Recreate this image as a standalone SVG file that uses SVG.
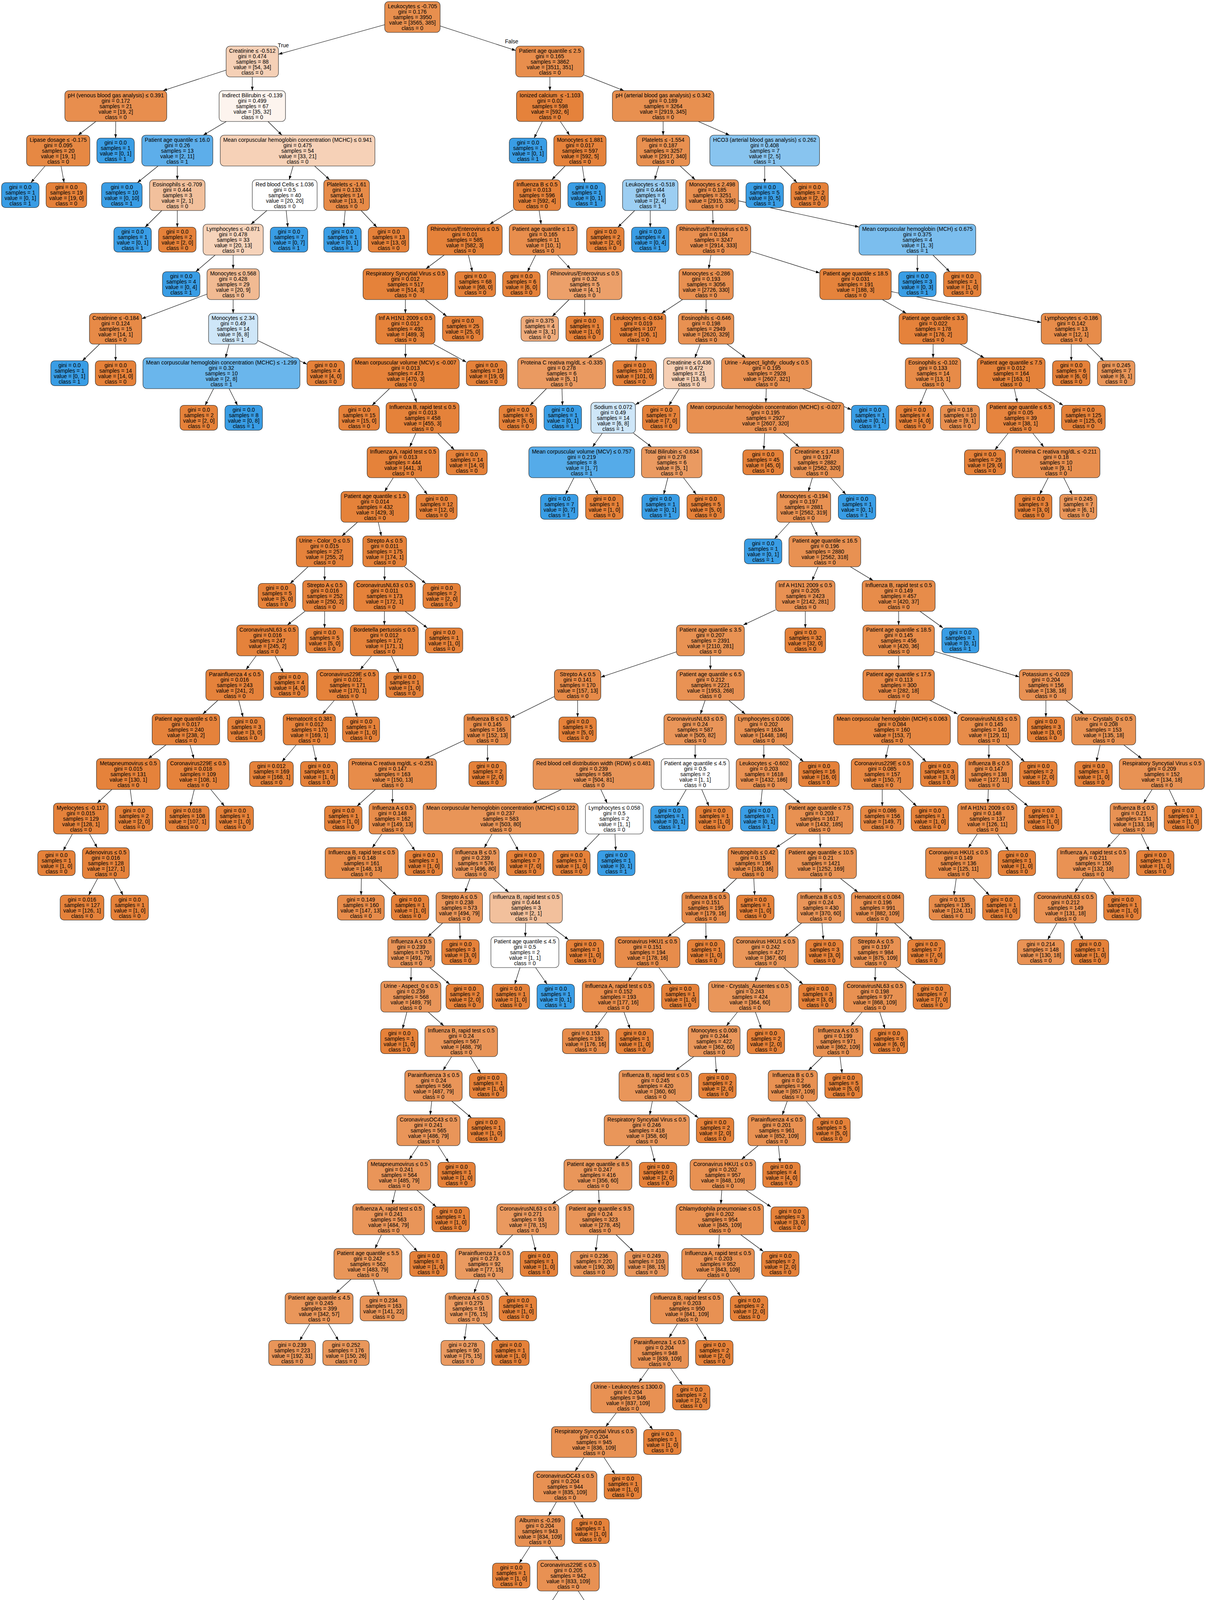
<svg xmlns="http://www.w3.org/2000/svg" width="3088" height="4746" viewBox="0 0 3088 4746">
<defs>
<style>
.n rect{stroke:#222;stroke-width:1.1;rx:10px;ry:10px}
.o rect{fill:#e58139}
.b rect{fill:#399de5}
text{font-family:"Liberation Sans",Arial,Helvetica,sans-serif;font-size:14px;text-anchor:middle;fill:#000}
#edges line{stroke:#000;stroke-width:1.1;marker-end:url(#arr)}
</style>
<marker id="arr" markerUnits="userSpaceOnUse" markerWidth="11" markerHeight="8" refX="10" refY="4" orient="auto" viewBox="0 0 11 8"><path d="M0,0.5 L10,4 L0,7.5 z" fill="#000"/></marker>
</defs>
<rect x="0" y="0" width="3088" height="4746" fill="#fff"/>
<g id="edges">
<line x1="985" y1="63.2" x2="713" y2="138.9"/>
<line x1="1127" y1="66.5" x2="1320.5" y2="129.2"/>
<line x1="579" y1="179.4" x2="417.6" y2="232"/>
<line x1="646" y1="197" x2="646" y2="232"/>
<line x1="1408" y1="197" x2="1408" y2="232"/>
<line x1="1495.5" y1="191.9" x2="1597.5" y2="232"/>
<line x1="245.4" y1="311" x2="200.1" y2="346"/>
<line x1="296.3" y1="311" x2="296.1" y2="353.5"/>
<line x1="579.5" y1="311" x2="520.5" y2="346"/>
<line x1="686.2" y1="311" x2="721.8" y2="346"/>
<line x1="1388.6" y1="311" x2="1367.7" y2="353.5"/>
<line x1="1434.7" y1="311" x2="1458.3" y2="346"/>
<line x1="1698" y1="311" x2="1698" y2="346"/>
<line x1="1788.1" y1="311" x2="1867.9" y2="346"/>
<line x1="115.4" y1="425" x2="79.2" y2="467.5"/>
<line x1="156.3" y1="425" x2="164.1" y2="467.5"/>
<line x1="404.8" y1="425" x2="351.9" y2="467.5"/>
<line x1="454" y1="425" x2="454" y2="460"/>
<line x1="750.6" y1="425" x2="740.4" y2="460"/>
<line x1="805.5" y1="425" x2="844" y2="460"/>
<line x1="1446.9" y1="425" x2="1413.1" y2="460"/>
<line x1="1490.9" y1="425" x2="1497.2" y2="467.5"/>
<line x1="1686.6" y1="425" x2="1676.4" y2="460"/>
<line x1="1741.5" y1="425" x2="1780" y2="460"/>
<line x1="1958" y1="425" x2="1958" y2="467.5"/>
<line x1="1997.8" y1="425" x2="2040.7" y2="467.5"/>
<line x1="414.3" y1="539" x2="371.6" y2="581.5"/>
<line x1="454" y1="539" x2="454" y2="581.5"/>
<line x1="683.3" y1="539" x2="642.7" y2="574"/>
<line x1="732.8" y1="539" x2="736.9" y2="581.5"/>
<line x1="883.9" y1="539" x2="879.9" y2="581.5"/>
<line x1="924.7" y1="539" x2="964.8" y2="581.5"/>
<line x1="1314.5" y1="536.8" x2="1254.1" y2="574"/>
<line x1="1380.5" y1="539" x2="1385.5" y2="574"/>
<line x1="1625.2" y1="539" x2="1582.3" y2="581.5"/>
<line x1="1665" y1="539" x2="1665" y2="581.5"/>
<line x1="1824.7" y1="539" x2="1825.8" y2="574"/>
<line x1="1891" y1="514.1" x2="2199.5" y2="581.1"/>
<line x1="550.9" y1="653" x2="501.3" y2="695.5"/>
<line x1="597" y1="653" x2="597" y2="688"/>
<line x1="1137.3" y1="653" x2="1090.7" y2="688"/>
<line x1="1199.4" y1="653" x2="1209.4" y2="695.5"/>
<line x1="1371.6" y1="653" x2="1350.7" y2="695.5"/>
<line x1="1427.7" y1="653" x2="1460.3" y2="688"/>
<line x1="1820.4" y1="653" x2="1814.6" y2="688"/>
<line x1="1922.5" y1="643.5" x2="2099" y2="698.8"/>
<line x1="2349" y1="653" x2="2349" y2="695.5"/>
<line x1="2388.8" y1="653" x2="2431.7" y2="695.5"/>
<line x1="530" y1="752.9" x2="363" y2="816.1"/>
<line x1="597" y1="767" x2="597" y2="802"/>
<line x1="1038" y1="767" x2="1038" y2="802"/>
<line x1="1088.9" y1="767" x2="1143.7" y2="809.5"/>
<line x1="1457.2" y1="767" x2="1414.3" y2="809.5"/>
<line x1="1497" y1="767" x2="1497" y2="809.5"/>
<line x1="1747.7" y1="767" x2="1694.3" y2="802"/>
<line x1="1808" y1="767" x2="1808" y2="802"/>
<line x1="2259.5" y1="767" x2="2320.5" y2="802"/>
<line x1="2282" y1="746.4" x2="2666" y2="825.6"/>
<line x1="255.1" y1="881" x2="211.1" y2="923.5"/>
<line x1="296" y1="881" x2="296" y2="923.5"/>
<line x1="586.6" y1="881" x2="577.4" y2="916"/>
<line x1="660" y1="871.8" x2="786" y2="932.4"/>
<line x1="1038.2" y1="881" x2="1038.3" y2="916"/>
<line x1="1110.1" y1="881" x2="1194" y2="927"/>
<line x1="1566.1" y1="881" x2="1505.9" y2="916"/>
<line x1="1630.9" y1="881" x2="1627.5" y2="923.5"/>
<line x1="1792.8" y1="881" x2="1779.2" y2="916"/>
<line x1="1861.7" y1="881" x2="1909.3" y2="916"/>
<line x1="2389.3" y1="881" x2="2389.2" y2="916"/>
<line x1="2458.6" y1="881" x2="2519.9" y2="916"/>
<line x1="2743" y1="881" x2="2743" y2="923.5"/>
<line x1="2782.8" y1="881" x2="2825.7" y2="923.5"/>
<line x1="546.9" y1="995" x2="525.3" y2="1037.5"/>
<line x1="586.7" y1="995" x2="608" y2="1037.5"/>
<line x1="997.3" y1="995" x2="952.9" y2="1037.5"/>
<line x1="1053.6" y1="995" x2="1066.9" y2="1030"/>
<line x1="1399.2" y1="995" x2="1357.4" y2="1037.5"/>
<line x1="1439" y1="995" x2="1440.2" y2="1037.5"/>
<line x1="1699" y1="993.7" x2="1627" y2="1036"/>
<line x1="1739.4" y1="995" x2="1712.9" y2="1037.5"/>
<line x1="1962" y1="995" x2="1961" y2="1030"/>
<line x1="2054.8" y1="995" x2="2180" y2="1048.9"/>
<line x1="2372.7" y1="995" x2="2355.2" y2="1037.5"/>
<line x1="2412.9" y1="995" x2="2438.6" y2="1037.5"/>
<line x1="2597.3" y1="995" x2="2604.7" y2="1030"/>
<line x1="2653.1" y1="995" x2="2722.1" y2="1037.5"/>
<line x1="1064.7" y1="1109" x2="1049.3" y2="1144"/>
<line x1="1121.2" y1="1109" x2="1163.3" y2="1151.5"/>
<line x1="1542.1" y1="1109" x2="1517.4" y2="1144"/>
<line x1="1622" y1="1109" x2="1668" y2="1144"/>
<line x1="1957.9" y1="1109" x2="1955.7" y2="1151.5"/>
<line x1="2005.7" y1="1109" x2="2046.3" y2="1144"/>
<line x1="2581.5" y1="1109" x2="2547.5" y2="1151.5"/>
<line x1="2644.5" y1="1109" x2="2672.5" y2="1144"/>
<line x1="1007" y1="1223" x2="985" y2="1258"/>
<line x1="1061.8" y1="1223" x2="1093.9" y2="1265.5"/>
<line x1="1469.6" y1="1223" x2="1448.1" y2="1265.5"/>
<line x1="1509.6" y1="1223" x2="1531.2" y2="1265.5"/>
<line x1="1710.1" y1="1223" x2="1699.5" y2="1265.5"/>
<line x1="1750.1" y1="1223" x2="1782.6" y2="1265.5"/>
<line x1="2080.2" y1="1223" x2="2069.8" y2="1258"/>
<line x1="2127.5" y1="1223" x2="2165.7" y2="1265.5"/>
<line x1="2683.9" y1="1223" x2="2662.3" y2="1265.5"/>
<line x1="2723.8" y1="1223" x2="2745" y2="1265.5"/>
<line x1="915.3" y1="1337" x2="875.7" y2="1372"/>
<line x1="968.7" y1="1337" x2="976.3" y2="1372"/>
<line x1="2022" y1="1337" x2="1983.2" y2="1379.5"/>
<line x1="2076.7" y1="1337" x2="2093.3" y2="1372"/>
<line x1="788.7" y1="1451" x2="743.2" y2="1493.5"/>
<line x1="831.2" y1="1451" x2="831.3" y2="1486"/>
<line x1="984.8" y1="1451" x2="984.7" y2="1486"/>
<line x1="1035.6" y1="1451" x2="1090" y2="1493.5"/>
<line x1="2094.7" y1="1451" x2="2079.3" y2="1486"/>
<line x1="2177.5" y1="1451" x2="2235.5" y2="1486"/>
<line x1="780.7" y1="1565" x2="735.8" y2="1600"/>
<line x1="831.3" y1="1565" x2="831.1" y2="1607.5"/>
<line x1="984.3" y1="1565" x2="984.2" y2="1600"/>
<line x1="1037.3" y1="1565" x2="1094.2" y2="1607.5"/>
<line x1="1986" y1="1561.2" x2="1903.2" y2="1600"/>
<line x1="2062" y1="1565" x2="2062" y2="1607.5"/>
<line x1="2301" y1="1565" x2="2301" y2="1600"/>
<line x1="2355.7" y1="1565" x2="2414.6" y2="1607.5"/>
<line x1="655.9" y1="1679" x2="630.1" y2="1714"/>
<line x1="704.4" y1="1679" x2="725.3" y2="1721.5"/>
<line x1="951.4" y1="1679" x2="922.6" y2="1714"/>
<line x1="1002" y1="1679" x2="1021.4" y2="1721.5"/>
<line x1="1732" y1="1668.7" x2="1538.5" y2="1733.6"/>
<line x1="1819" y1="1679" x2="1819" y2="1714"/>
<line x1="2301" y1="1679" x2="2301" y2="1714"/>
<line x1="2392.5" y1="1667.2" x2="2610" y2="1732.9"/>
<line x1="557.7" y1="1793" x2="519.3" y2="1828"/>
<line x1="611.2" y1="1793" x2="622.2" y2="1835.5"/>
<line x1="856" y1="1793" x2="826" y2="1828"/>
<line x1="902" y1="1793" x2="914.8" y2="1835.5"/>
<line x1="1419.5" y1="1782.9" x2="1308" y2="1837.9"/>
<line x1="1479" y1="1793" x2="1479" y2="1835.5"/>
<line x1="1805.5" y1="1793" x2="1793.5" y2="1828"/>
<line x1="1866.3" y1="1793" x2="1908.2" y2="1828"/>
<line x1="2295.1" y1="1793" x2="2289.9" y2="1828"/>
<line x1="2381" y1="1793" x2="2452" y2="1828"/>
<line x1="2678" y1="1793" x2="2678" y2="1835.5"/>
<line x1="2729.3" y1="1793" x2="2774.7" y2="1828"/>
<line x1="424.9" y1="1907" x2="379.6" y2="1942"/>
<line x1="486.7" y1="1907" x2="496.3" y2="1942"/>
<line x1="758.4" y1="1907" x2="722.2" y2="1949.5"/>
<line x1="800.7" y1="1907" x2="810" y2="1949.5"/>
<line x1="1188" y1="1895.6" x2="1089.2" y2="1942"/>
<line x1="1248.2" y1="1907" x2="1248.4" y2="1949.5"/>
<line x1="1700" y1="1902.6" x2="1610.1" y2="1942"/>
<line x1="1780" y1="1907" x2="1780" y2="1942"/>
<line x1="1955.7" y1="1907" x2="1955.8" y2="1942"/>
<line x1="2004.5" y1="1907" x2="2057.3" y2="1949.5"/>
<line x1="2275.3" y1="1907" x2="2267.7" y2="1942"/>
<line x1="2325.9" y1="1907" x2="2371" y2="1949.5"/>
<line x1="2532" y1="1907" x2="2532" y2="1942"/>
<line x1="2575.9" y1="1907" x2="2623.1" y2="1949.5"/>
<line x1="2817" y1="1907" x2="2807.3" y2="1949.5"/>
<line x1="2877.6" y1="1907" x2="2923.4" y2="1942"/>
<line x1="286.4" y1="2021" x2="249.1" y2="2056"/>
<line x1="333.5" y1="2021" x2="338.9" y2="2063.5"/>
<line x1="497.5" y1="2021" x2="487.2" y2="2063.5"/>
<line x1="539.6" y1="2021" x2="574.6" y2="2063.5"/>
<line x1="961.3" y1="2021" x2="914.4" y2="2063.5"/>
<line x1="1005" y1="2021" x2="1005" y2="2056"/>
<line x1="1437.5" y1="2021" x2="1364.5" y2="2056"/>
<line x1="1538.4" y1="2021" x2="1554.6" y2="2056"/>
<line x1="1757.1" y1="2021" x2="1732.5" y2="2063.5"/>
<line x1="1796.8" y1="2021" x2="1815" y2="2063.5"/>
<line x1="1951.8" y1="2021" x2="1947.4" y2="2063.5"/>
<line x1="2005.2" y1="2021" x2="2048.8" y2="2056"/>
<line x1="2259" y1="2021" x2="2259" y2="2063.5"/>
<line x1="2301.3" y1="2021" x2="2346.8" y2="2063.5"/>
<line x1="2530.6" y1="2021" x2="2529.4" y2="2056"/>
<line x1="2580.2" y1="2021" x2="2632" y2="2063.5"/>
<line x1="2950" y1="2021" x2="2928" y2="2056"/>
<line x1="2993.7" y1="2021" x2="3013.8" y2="2063.5"/>
<line x1="185.3" y1="2135" x2="162" y2="2177.5"/>
<line x1="229.2" y1="2135" x2="248.8" y2="2170"/>
<line x1="977.6" y1="2135" x2="953.4" y2="2170"/>
<line x1="1032.7" y1="2135" x2="1062.5" y2="2177.5"/>
<line x1="1259.8" y1="2135" x2="1240.2" y2="2170"/>
<line x1="1303.8" y1="2135" x2="1327.3" y2="2177.5"/>
<line x1="1534.9" y1="2135" x2="1493.9" y2="2177.5"/>
<line x1="1574.7" y1="2135" x2="1576.6" y2="2177.5"/>
<line x1="2039.1" y1="2135" x2="1986.9" y2="2170"/>
<line x1="2099.4" y1="2135" x2="2100.6" y2="2170"/>
<line x1="2502.4" y1="2135" x2="2479.6" y2="2170"/>
<line x1="2554.2" y1="2135" x2="2582.5" y2="2177.5"/>
<line x1="2867" y1="2135" x2="2835" y2="2170"/>
<line x1="2922.1" y1="2135" x2="2942.6" y2="2177.5"/>
<line x1="249.9" y1="2249" x2="227.1" y2="2291.5"/>
<line x1="292.1" y1="2249" x2="314.9" y2="2291.5"/>
<line x1="925.3" y1="2249" x2="924.6" y2="2291.5"/>
<line x1="969" y1="2249" x2="1015.2" y2="2291.5"/>
<line x1="1203.4" y1="2249" x2="1190.6" y2="2284"/>
<line x1="1262.7" y1="2249" x2="1302.3" y2="2284"/>
<line x1="1886.1" y1="2249" x2="1848.9" y2="2284"/>
<line x1="1930.1" y1="2249" x2="1932.3" y2="2291.5"/>
<line x1="2101.8" y1="2249" x2="2101.7" y2="2284"/>
<line x1="2152.2" y1="2249" x2="2196.8" y2="2284"/>
<line x1="2448.5" y1="2249" x2="2442.5" y2="2291.5"/>
<line x1="2492.1" y1="2249" x2="2533.1" y2="2291.5"/>
<line x1="2774.4" y1="2249" x2="2752.6" y2="2284"/>
<line x1="2825" y1="2249" x2="2852.9" y2="2291.5"/>
<line x1="1133.4" y1="2363" x2="1095.6" y2="2398"/>
<line x1="1177" y1="2363" x2="1178.2" y2="2405.5"/>
<line x1="1346" y1="2363" x2="1345" y2="2398"/>
<line x1="1399.3" y1="2363" x2="1455.6" y2="2405.5"/>
<line x1="1755.4" y1="2363" x2="1709.6" y2="2398"/>
<line x1="1807.3" y1="2363" x2="1807.7" y2="2405.5"/>
<line x1="2052.6" y1="2363" x2="2009.4" y2="2398"/>
<line x1="2104.8" y1="2363" x2="2108.3" y2="2405.5"/>
<line x1="2245.3" y1="2363" x2="2243.7" y2="2398"/>
<line x1="2290.3" y1="2363" x2="2336.9" y2="2405.5"/>
<line x1="2706.2" y1="2363" x2="2682.7" y2="2405.5"/>
<line x1="2749.8" y1="2363" x2="2773.3" y2="2405.5"/>
<line x1="1052.7" y1="2477" x2="1052.3" y2="2512"/>
<line x1="1100.5" y1="2477" x2="1151.5" y2="2519.5"/>
<line x1="1331.5" y1="2477" x2="1318.1" y2="2519.5"/>
<line x1="1371.4" y1="2477" x2="1400.8" y2="2519.5"/>
<line x1="1632" y1="2477" x2="1609" y2="2512"/>
<line x1="1687.1" y1="2477" x2="1718.4" y2="2519.5"/>
<line x1="1946.5" y1="2477" x2="1934" y2="2512"/>
<line x1="2006.4" y1="2477" x2="2055.8" y2="2519.5"/>
<line x1="2241.3" y1="2477" x2="2240.7" y2="2512"/>
<line x1="2291.9" y1="2477" x2="2345.6" y2="2519.5"/>
<line x1="1041.8" y1="2591" x2="1030.8" y2="2633.5"/>
<line x1="1096.7" y1="2591" x2="1136.3" y2="2626"/>
<line x1="1554.1" y1="2591" x2="1523" y2="2633.5"/>
<line x1="1597.6" y1="2591" x2="1613.2" y2="2633.5"/>
<line x1="1888.3" y1="2591" x2="1860.2" y2="2626"/>
<line x1="1934.2" y1="2591" x2="1949.5" y2="2633.5"/>
<line x1="2207.4" y1="2591" x2="2178.6" y2="2626"/>
<line x1="2252.5" y1="2591" x2="2265.9" y2="2633.5"/>
<line x1="1156.4" y1="2705" x2="1134.6" y2="2740"/>
<line x1="1204.9" y1="2705" x2="1230.6" y2="2747.5"/>
<line x1="1776.4" y1="2705" x2="1730.1" y2="2740"/>
<line x1="1831.4" y1="2705" x2="1834.6" y2="2747.5"/>
<line x1="2105.8" y1="2705" x2="2070.2" y2="2740"/>
<line x1="2150.9" y1="2705" x2="2156.1" y2="2747.5"/>
<line x1="1105.5" y1="2819" x2="1101.5" y2="2854"/>
<line x1="1156.8" y1="2819" x2="1207.1" y2="2861.5"/>
<line x1="1670.4" y1="2819" x2="1663.6" y2="2854"/>
<line x1="1731" y1="2819" x2="1788.1" y2="2861.5"/>
<line x1="2015.8" y1="2819" x2="2003.2" y2="2854"/>
<line x1="2064.3" y1="2819" x2="2101.2" y2="2861.5"/>
<line x1="1071" y1="2933" x2="1048" y2="2968"/>
<line x1="1121.9" y1="2933" x2="1148.8" y2="2975.5"/>
<line x1="1612.7" y1="2933" x2="1574.3" y2="2968"/>
<line x1="1666" y1="2933" x2="1676.9" y2="2975.5"/>
<line x1="1941.2" y1="2933" x2="1898.8" y2="2968"/>
<line x1="1993.2" y1="2933" x2="1997.6" y2="2975.5"/>
<line x1="1012.6" y1="3047" x2="1004.4" y2="3082"/>
<line x1="1067.7" y1="3047" x2="1117" y2="3089.5"/>
<line x1="1468.8" y1="3047" x2="1413.7" y2="3082"/>
<line x1="1532.7" y1="3047" x2="1534.3" y2="3082"/>
<line x1="1848.2" y1="3047" x2="1845.8" y2="3082"/>
<line x1="1910.2" y1="3047" x2="1974" y2="3089.5"/>
<line x1="976.6" y1="3161" x2="960.4" y2="3196"/>
<line x1="1030.3" y1="3161" x2="1068.4" y2="3203.5"/>
<line x1="1312.9" y1="3161" x2="1278.6" y2="3196"/>
<line x1="1361.4" y1="3161" x2="1372" y2="3203.5"/>
<line x1="1530.8" y1="3161" x2="1525.2" y2="3203.5"/>
<line x1="1577.4" y1="3161" x2="1621.9" y2="3203.5"/>
<line x1="1841.5" y1="3161" x2="1840.1" y2="3196"/>
<line x1="1896.7" y1="3161" x2="1954.5" y2="3203.5"/>
<line x1="898.7" y1="3275" x2="860.3" y2="3310"/>
<line x1="955.9" y1="3275" x2="970.8" y2="3317.5"/>
<line x1="1226.1" y1="3275" x2="1213.9" y2="3310"/>
<line x1="1269.8" y1="3275" x2="1301.9" y2="3317.5"/>
<line x1="1811" y1="3275" x2="1786.6" y2="3310"/>
<line x1="1866.1" y1="3275" x2="1895.7" y2="3317.5"/>
<line x1="793.1" y1="3389" x2="767.4" y2="3431.5"/>
<line x1="840.9" y1="3389" x2="866.6" y2="3431.5"/>
<line x1="1194.8" y1="3389" x2="1189.2" y2="3431.5"/>
<line x1="1237.1" y1="3389" x2="1277" y2="3431.5"/>
<line x1="1734.7" y1="3389" x2="1713.3" y2="3424"/>
<line x1="1783.3" y1="3389" x2="1809.4" y2="3431.5"/>
<line x1="1660.9" y1="3503" x2="1636.1" y2="3538"/>
<line x1="1717.1" y1="3503" x2="1747.3" y2="3545.5"/>
<line x1="1577.9" y1="3617" x2="1551.1" y2="3652"/>
<line x1="1638.5" y1="3617" x2="1671.3" y2="3659.5"/>
<line x1="1495.4" y1="3731" x2="1472.6" y2="3766"/>
<line x1="1546.6" y1="3731" x2="1574.2" y2="3773.5"/>
<line x1="1424.7" y1="3845" x2="1404.8" y2="3880"/>
<line x1="1469.5" y1="3845" x2="1493.8" y2="3887.5"/>
<line x1="1357" y1="3959" x2="1329.6" y2="4001.5"/>
<line x1="1407.6" y1="3959" x2="1429.9" y2="3994"/>
<line x1="1429.7" y1="4073" x2="1407.3" y2="4108"/>
<line x1="1480.6" y1="4073" x2="1508.2" y2="4115.5"/>
<line x1="1357.7" y1="4187" x2="1336.3" y2="4222"/>
<line x1="1406.3" y1="4187" x2="1432.4" y2="4229.5"/>
<line x1="1284.6" y1="4301" x2="1260.4" y2="4336"/>
<line x1="1339.4" y1="4301" x2="1368.8" y2="4343.5"/>
<line x1="1198.4" y1="4415" x2="1167.6" y2="4450"/>
<line x1="1267.6" y1="4415" x2="1298.4" y2="4450"/>
<line x1="1080.2" y1="4529" x2="1033.3" y2="4564"/>
<line x1="1138.8" y1="4529" x2="1144.9" y2="4571.5"/>
<line x1="1328" y1="4529" x2="1322.6" y2="4571.5"/>
<line x1="1386.4" y1="4529" x2="1433.6" y2="4564"/>
<line x1="957.1" y1="4643" x2="932" y2="4685.5"/>
<line x1="1003.5" y1="4643" x2="1028.3" y2="4685.5"/>
<line x1="1463.1" y1="4643" x2="1437.4" y2="4685.5"/>
<line x1="1510.9" y1="4643" x2="1536.6" y2="4685.5"/>
<text x="725.5" y="121">True</text>
<text x="1310" y="111">False</text>
</g>
<g id="nodes">
<g id="n0" class="n" transform="translate(1056,43.5)"><rect x="-71" y="-39.5" width="142" height="79" fill="#e88f4e"/><text y="-23"><tspan x="0">Leukocytes ≤ -0.705</tspan><tspan x="0" dy="14.15">gini = 0.176</tspan><tspan x="0" dy="14.15">samples = 3950</tspan><tspan x="0" dy="14.15">value = [3565, 385]</tspan><tspan x="0" dy="14.15">class = 0</tspan></text></g>
<g id="n1" class="n" transform="translate(646,157.5)"><rect x="-67" y="-39.5" width="134" height="79" fill="#f5d0b6"/><text y="-23"><tspan x="0">Creatinine ≤ -0.512</tspan><tspan x="0" dy="14.15">gini = 0.474</tspan><tspan x="0" dy="14.15">samples = 88</tspan><tspan x="0" dy="14.15">value = [54, 34]</tspan><tspan x="0" dy="14.15">class = 0</tspan></text></g>
<g id="n2" class="n" transform="translate(1408,157.5)"><rect x="-87.5" y="-39.5" width="175" height="79" fill="#e88e4d"/><text y="-23"><tspan x="0">Patient age quantile ≤ 2.5</tspan><tspan x="0" dy="14.15">gini = 0.165</tspan><tspan x="0" dy="14.15">samples = 3862</tspan><tspan x="0" dy="14.15">value = [3511, 351]</tspan><tspan x="0" dy="14.15">class = 0</tspan></text></g>
<g id="n3" class="n" transform="translate(296.5,271.5)"><rect x="-130.5" y="-39.5" width="261" height="79" fill="#e88e4e"/><text y="-23"><tspan x="0">pH (venous blood gas analysis) ≤ 0.391</tspan><tspan x="0" dy="14.15">gini = 0.172</tspan><tspan x="0" dy="14.15">samples = 21</tspan><tspan x="0" dy="14.15">value = [19, 2]</tspan><tspan x="0" dy="14.15">class = 0</tspan></text></g>
<g id="n4" class="n" transform="translate(646,271.5)"><rect x="-85" y="-39.5" width="170" height="79" fill="#fdf4ee"/><text y="-23"><tspan x="0">Indirect Bilirubin ≤ -0.139</tspan><tspan x="0" dy="14.15">gini = 0.499</tspan><tspan x="0" dy="14.15">samples = 67</tspan><tspan x="0" dy="14.15">value = [35, 32]</tspan><tspan x="0" dy="14.15">class = 0</tspan></text></g>
<g id="n5" class="n" transform="translate(1408,271.5)"><rect x="-85.5" y="-39.5" width="171" height="79" fill="#e5823b"/><text y="-23" style="white-space:pre"><tspan x="0">Ionized calcium  ≤ -1.103</tspan><tspan x="0" dy="14.15">gini = 0.02</tspan><tspan x="0" dy="14.15">samples = 598</tspan><tspan x="0" dy="14.15">value = [592, 6]</tspan><tspan x="0" dy="14.15">class = 0</tspan></text></g>
<g id="n6" class="n" transform="translate(1698,271.5)"><rect x="-130" y="-39.5" width="260" height="79" fill="#e89050"/><text y="-23"><tspan x="0">pH (arterial blood gas analysis) ≤ 0.342</tspan><tspan x="0" dy="14.15">gini = 0.189</tspan><tspan x="0" dy="14.15">samples = 3264</tspan><tspan x="0" dy="14.15">value = [2919, 345]</tspan><tspan x="0" dy="14.15">class = 0</tspan></text></g>
<g id="n7" class="n" transform="translate(149,385.5)"><rect x="-81" y="-39.5" width="162" height="79" fill="#e68843"/><text y="-23"><tspan x="0">Lipase dosage ≤ -0.175</tspan><tspan x="0" dy="14.15">gini = 0.095</tspan><tspan x="0" dy="14.15">samples = 20</tspan><tspan x="0" dy="14.15">value = [19, 1]</tspan><tspan x="0" dy="14.15">class = 0</tspan></text></g>
<g id="n8" class="n b" transform="translate(296,385.5)"><rect x="-48" y="-32" width="96" height="64"/><text y="-15.7"><tspan x="0">gini = 0.0</tspan><tspan x="0" dy="14.15">samples = 1</tspan><tspan x="0" dy="14.15">value = [0, 1]</tspan><tspan x="0" dy="14.15">class = 1</tspan></text></g>
<g id="n9" class="n" transform="translate(454,385.5)"><rect x="-91" y="-39.5" width="182" height="79" fill="#5daeea"/><text y="-23"><tspan x="0">Patient age quantile ≤ 16.0</tspan><tspan x="0" dy="14.15">gini = 0.26</tspan><tspan x="0" dy="14.15">samples = 13</tspan><tspan x="0" dy="14.15">value = [2, 11]</tspan><tspan x="0" dy="14.15">class = 1</tspan></text></g>
<g id="n10" class="n" transform="translate(762,385.5)"><rect x="-198" y="-39.5" width="396" height="79" fill="#f6d1b7"/><text y="-23"><tspan x="0">Mean corpuscular hemoglobin concentration (MCHC) ≤ 0.941</tspan><tspan x="0" dy="14.15">gini = 0.475</tspan><tspan x="0" dy="14.15">samples = 54</tspan><tspan x="0" dy="14.15">value = [33, 21]</tspan><tspan x="0" dy="14.15">class = 0</tspan></text></g>
<g id="n11" class="n b" transform="translate(1352,385.5)"><rect x="-48" y="-32" width="96" height="64"/><text y="-15.7"><tspan x="0">gini = 0.0</tspan><tspan x="0" dy="14.15">samples = 1</tspan><tspan x="0" dy="14.15">value = [0, 1]</tspan><tspan x="0" dy="14.15">class = 1</tspan></text></g>
<g id="n12" class="n" transform="translate(1485,385.5)"><rect x="-67" y="-39.5" width="134" height="79" fill="#e5823b"/><text y="-23"><tspan x="0">Monocytes ≤ 1.881</tspan><tspan x="0" dy="14.15">gini = 0.017</tspan><tspan x="0" dy="14.15">samples = 597</tspan><tspan x="0" dy="14.15">value = [592, 5]</tspan><tspan x="0" dy="14.15">class = 0</tspan></text></g>
<g id="n13" class="n" transform="translate(1698,385.5)"><rect x="-68" y="-39.5" width="136" height="79" fill="#e89050"/><text y="-23"><tspan x="0">Platelets ≤ -1.554</tspan><tspan x="0" dy="14.15">gini = 0.187</tspan><tspan x="0" dy="14.15">samples = 3257</tspan><tspan x="0" dy="14.15">value = [2917, 340]</tspan><tspan x="0" dy="14.15">class = 0</tspan></text></g>
<g id="n14" class="n" transform="translate(1958,385.5)"><rect x="-140.5" y="-39.5" width="281" height="79" fill="#88c4ef"/><text y="-23"><tspan x="0">HCO3 (arterial blood gas analysis) ≤ 0.262</tspan><tspan x="0" dy="14.15">gini = 0.408</tspan><tspan x="0" dy="14.15">samples = 7</tspan><tspan x="0" dy="14.15">value = [2, 5]</tspan><tspan x="0" dy="14.15">class = 1</tspan></text></g>
<g id="n15" class="n b" transform="translate(52,499.5)"><rect x="-48" y="-32" width="96" height="64"/><text y="-15.7"><tspan x="0">gini = 0.0</tspan><tspan x="0" dy="14.15">samples = 1</tspan><tspan x="0" dy="14.15">value = [0, 1]</tspan><tspan x="0" dy="14.15">class = 1</tspan></text></g>
<g id="n16" class="n o" transform="translate(170,499.5)"><rect x="-52" y="-32" width="104" height="64"/><text y="-15.7"><tspan x="0">gini = 0.0</tspan><tspan x="0" dy="14.15">samples = 19</tspan><tspan x="0" dy="14.15">value = [19, 0]</tspan><tspan x="0" dy="14.15">class = 0</tspan></text></g>
<g id="n17" class="n b" transform="translate(312,499.5)"><rect x="-52" y="-32" width="104" height="64"/><text y="-15.7"><tspan x="0">gini = 0.0</tspan><tspan x="0" dy="14.15">samples = 10</tspan><tspan x="0" dy="14.15">value = [0, 10]</tspan><tspan x="0" dy="14.15">class = 1</tspan></text></g>
<g id="n18" class="n" transform="translate(454,499.5)"><rect x="-71" y="-39.5" width="142" height="79" fill="#f2c09c"/><text y="-23"><tspan x="0">Eosinophils ≤ -0.709</tspan><tspan x="0" dy="14.15">gini = 0.444</tspan><tspan x="0" dy="14.15">samples = 3</tspan><tspan x="0" dy="14.15">value = [2, 1]</tspan><tspan x="0" dy="14.15">class = 0</tspan></text></g>
<g id="n19" class="n" transform="translate(729,499.5)"><rect x="-83" y="-39.5" width="166" height="79" fill="#ffffff"/><text y="-23"><tspan x="0">Red blood Cells ≤ 1.036</tspan><tspan x="0" dy="14.15">gini = 0.5</tspan><tspan x="0" dy="14.15">samples = 40</tspan><tspan x="0" dy="14.15">value = [20, 20]</tspan><tspan x="0" dy="14.15">class = 0</tspan></text></g>
<g id="n20" class="n" transform="translate(887.5,499.5)"><rect x="-58.5" y="-39.5" width="117" height="79" fill="#e78b48"/><text y="-23"><tspan x="0">Platelets ≤ -1.61</tspan><tspan x="0" dy="14.15">gini = 0.133</tspan><tspan x="0" dy="14.15">samples = 14</tspan><tspan x="0" dy="14.15">value = [13, 1]</tspan><tspan x="0" dy="14.15">class = 0</tspan></text></g>
<g id="n21" class="n" transform="translate(1375,499.5)"><rect x="-60.5" y="-39.5" width="121" height="79" fill="#e5823a"/><text y="-23"><tspan x="0">Influenza B ≤ 0.5</tspan><tspan x="0" dy="14.15">gini = 0.013</tspan><tspan x="0" dy="14.15">samples = 596</tspan><tspan x="0" dy="14.15">value = [592, 4]</tspan><tspan x="0" dy="14.15">class = 0</tspan></text></g>
<g id="n22" class="n b" transform="translate(1502,499.5)"><rect x="-48" y="-32" width="96" height="64"/><text y="-15.7"><tspan x="0">gini = 0.0</tspan><tspan x="0" dy="14.15">samples = 1</tspan><tspan x="0" dy="14.15">value = [0, 1]</tspan><tspan x="0" dy="14.15">class = 1</tspan></text></g>
<g id="n23" class="n" transform="translate(1665,499.5)"><rect x="-71" y="-39.5" width="142" height="79" fill="#9ccef2"/><text y="-23"><tspan x="0">Leukocytes ≤ -0.518</tspan><tspan x="0" dy="14.15">gini = 0.444</tspan><tspan x="0" dy="14.15">samples = 6</tspan><tspan x="0" dy="14.15">value = [2, 4]</tspan><tspan x="0" dy="14.15">class = 1</tspan></text></g>
<g id="n24" class="n" transform="translate(1823.5,499.5)"><rect x="-67.5" y="-39.5" width="135" height="79" fill="#e88f50"/><text y="-23"><tspan x="0">Monocytes ≤ 2.498</tspan><tspan x="0" dy="14.15">gini = 0.185</tspan><tspan x="0" dy="14.15">samples = 3251</tspan><tspan x="0" dy="14.15">value = [2915, 336]</tspan><tspan x="0" dy="14.15">class = 0</tspan></text></g>
<g id="n25" class="n b" transform="translate(1958,499.5)"><rect x="-48" y="-32" width="96" height="64"/><text y="-15.7"><tspan x="0">gini = 0.0</tspan><tspan x="0" dy="14.15">samples = 5</tspan><tspan x="0" dy="14.15">value = [0, 5]</tspan><tspan x="0" dy="14.15">class = 1</tspan></text></g>
<g id="n26" class="n o" transform="translate(2073,499.5)"><rect x="-48" y="-32" width="96" height="64"/><text y="-15.7"><tspan x="0">gini = 0.0</tspan><tspan x="0" dy="14.15">samples = 2</tspan><tspan x="0" dy="14.15">value = [2, 0]</tspan><tspan x="0" dy="14.15">class = 0</tspan></text></g>
<g id="n27" class="n b" transform="translate(339.5,613.5)"><rect x="-48" y="-32" width="96" height="64"/><text y="-15.7"><tspan x="0">gini = 0.0</tspan><tspan x="0" dy="14.15">samples = 1</tspan><tspan x="0" dy="14.15">value = [0, 1]</tspan><tspan x="0" dy="14.15">class = 1</tspan></text></g>
<g id="n28" class="n o" transform="translate(454,613.5)"><rect x="-48" y="-32" width="96" height="64"/><text y="-15.7"><tspan x="0">gini = 0.0</tspan><tspan x="0" dy="14.15">samples = 2</tspan><tspan x="0" dy="14.15">value = [2, 0]</tspan><tspan x="0" dy="14.15">class = 0</tspan></text></g>
<g id="n29" class="n" transform="translate(597,613.5)"><rect x="-77" y="-39.5" width="154" height="79" fill="#f6d3ba"/><text y="-23"><tspan x="0">Lymphocytes ≤ -0.871</tspan><tspan x="0" dy="14.15">gini = 0.478</tspan><tspan x="0" dy="14.15">samples = 33</tspan><tspan x="0" dy="14.15">value = [20, 13]</tspan><tspan x="0" dy="14.15">class = 0</tspan></text></g>
<g id="n30" class="n b" transform="translate(740,613.5)"><rect x="-48" y="-32" width="96" height="64"/><text y="-15.7"><tspan x="0">gini = 0.0</tspan><tspan x="0" dy="14.15">samples = 7</tspan><tspan x="0" dy="14.15">value = [0, 7]</tspan><tspan x="0" dy="14.15">class = 1</tspan></text></g>
<g id="n31" class="n b" transform="translate(877,613.5)"><rect x="-48" y="-32" width="96" height="64"/><text y="-15.7"><tspan x="0">gini = 0.0</tspan><tspan x="0" dy="14.15">samples = 1</tspan><tspan x="0" dy="14.15">value = [0, 1]</tspan><tspan x="0" dy="14.15">class = 1</tspan></text></g>
<g id="n32" class="n o" transform="translate(995,613.5)"><rect x="-52" y="-32" width="104" height="64"/><text y="-15.7"><tspan x="0">gini = 0.0</tspan><tspan x="0" dy="14.15">samples = 13</tspan><tspan x="0" dy="14.15">value = [13, 0]</tspan><tspan x="0" dy="14.15">class = 0</tspan></text></g>
<g id="n33" class="n" transform="translate(1190,613.5)"><rect x="-96" y="-39.5" width="192" height="79" fill="#e5823a"/><text y="-23"><tspan x="0">Rhinovirus/Enterovirus ≤ 0.5</tspan><tspan x="0" dy="14.15">gini = 0.01</tspan><tspan x="0" dy="14.15">samples = 585</tspan><tspan x="0" dy="14.15">value = [582, 3]</tspan><tspan x="0" dy="14.15">class = 0</tspan></text></g>
<g id="n34" class="n" transform="translate(1391,613.5)"><rect x="-87" y="-39.5" width="174" height="79" fill="#e88e4d"/><text y="-23"><tspan x="0">Patient age quantile ≤ 1.5</tspan><tspan x="0" dy="14.15">gini = 0.165</tspan><tspan x="0" dy="14.15">samples = 11</tspan><tspan x="0" dy="14.15">value = [10, 1]</tspan><tspan x="0" dy="14.15">class = 0</tspan></text></g>
<g id="n35" class="n o" transform="translate(1550,613.5)"><rect x="-48" y="-32" width="96" height="64"/><text y="-15.7"><tspan x="0">gini = 0.0</tspan><tspan x="0" dy="14.15">samples = 2</tspan><tspan x="0" dy="14.15">value = [2, 0]</tspan><tspan x="0" dy="14.15">class = 0</tspan></text></g>
<g id="n36" class="n b" transform="translate(1665,613.5)"><rect x="-48" y="-32" width="96" height="64"/><text y="-15.7"><tspan x="0">gini = 0.0</tspan><tspan x="0" dy="14.15">samples = 4</tspan><tspan x="0" dy="14.15">value = [0, 4]</tspan><tspan x="0" dy="14.15">class = 1</tspan></text></g>
<g id="n37" class="n" transform="translate(1827,613.5)"><rect x="-95.5" y="-39.5" width="191" height="79" fill="#e88f50"/><text y="-23"><tspan x="0">Rhinovirus/Enterovirus ≤ 0.5</tspan><tspan x="0" dy="14.15">gini = 0.184</tspan><tspan x="0" dy="14.15">samples = 3247</tspan><tspan x="0" dy="14.15">value = [2914, 333]</tspan><tspan x="0" dy="14.15">class = 0</tspan></text></g>
<g id="n38" class="n" transform="translate(2349,613.5)"><rect x="-149.5" y="-39.5" width="299" height="79" fill="#7bbeee"/><text y="-23"><tspan x="0">Mean corpuscular hemoglobin (MCH) ≤ 0.675</tspan><tspan x="0" dy="14.15">gini = 0.375</tspan><tspan x="0" dy="14.15">samples = 4</tspan><tspan x="0" dy="14.15">value = [1, 3]</tspan><tspan x="0" dy="14.15">class = 1</tspan></text></g>
<g id="n39" class="n b" transform="translate(464,727.5)"><rect x="-48" y="-32" width="96" height="64"/><text y="-15.7"><tspan x="0">gini = 0.0</tspan><tspan x="0" dy="14.15">samples = 4</tspan><tspan x="0" dy="14.15">value = [0, 4]</tspan><tspan x="0" dy="14.15">class = 1</tspan></text></g>
<g id="n40" class="n" transform="translate(597,727.5)"><rect x="-67" y="-39.5" width="134" height="79" fill="#f1ba92"/><text y="-23"><tspan x="0">Monocytes ≤ 0.568</tspan><tspan x="0" dy="14.15">gini = 0.428</tspan><tspan x="0" dy="14.15">samples = 29</tspan><tspan x="0" dy="14.15">value = [20, 9]</tspan><tspan x="0" dy="14.15">class = 0</tspan></text></g>
<g id="n41" class="n" transform="translate(1038,727.5)"><rect x="-108.5" y="-39.5" width="217" height="79" fill="#e5823a"/><text y="-23"><tspan x="0">Respiratory Syncytial Virus ≤ 0.5</tspan><tspan x="0" dy="14.15">gini = 0.012</tspan><tspan x="0" dy="14.15">samples = 517</tspan><tspan x="0" dy="14.15">value = [514, 3]</tspan><tspan x="0" dy="14.15">class = 0</tspan></text></g>
<g id="n42" class="n o" transform="translate(1217,727.5)"><rect x="-52" y="-32" width="104" height="64"/><text y="-15.7"><tspan x="0">gini = 0.0</tspan><tspan x="0" dy="14.15">samples = 68</tspan><tspan x="0" dy="14.15">value = [68, 0]</tspan><tspan x="0" dy="14.15">class = 0</tspan></text></g>
<g id="n43" class="n o" transform="translate(1335,727.5)"><rect x="-48" y="-32" width="96" height="64"/><text y="-15.7"><tspan x="0">gini = 0.0</tspan><tspan x="0" dy="14.15">samples = 6</tspan><tspan x="0" dy="14.15">value = [6, 0]</tspan><tspan x="0" dy="14.15">class = 0</tspan></text></g>
<g id="n44" class="n" transform="translate(1497,727.5)"><rect x="-95.5" y="-39.5" width="191" height="79" fill="#eca06a"/><text y="-23"><tspan x="0">Rhinovirus/Enterovirus ≤ 0.5</tspan><tspan x="0" dy="14.15">gini = 0.32</tspan><tspan x="0" dy="14.15">samples = 5</tspan><tspan x="0" dy="14.15">value = [4, 1]</tspan><tspan x="0" dy="14.15">class = 0</tspan></text></g>
<g id="n45" class="n" transform="translate(1808,727.5)"><rect x="-69.5" y="-39.5" width="139" height="79" fill="#e89051"/><text y="-23"><tspan x="0">Monocytes ≤ -0.286</tspan><tspan x="0" dy="14.15">gini = 0.193</tspan><tspan x="0" dy="14.15">samples = 3056</tspan><tspan x="0" dy="14.15">value = [2726, 330]</tspan><tspan x="0" dy="14.15">class = 0</tspan></text></g>
<g id="n46" class="n" transform="translate(2190.5,727.5)"><rect x="-91.5" y="-39.5" width="183" height="79" fill="#e5833c"/><text y="-23"><tspan x="0">Patient age quantile ≤ 18.5</tspan><tspan x="0" dy="14.15">gini = 0.031</tspan><tspan x="0" dy="14.15">samples = 191</tspan><tspan x="0" dy="14.15">value = [188, 3]</tspan><tspan x="0" dy="14.15">class = 0</tspan></text></g>
<g id="n47" class="n b" transform="translate(2349,727.5)"><rect x="-48" y="-32" width="96" height="64"/><text y="-15.7"><tspan x="0">gini = 0.0</tspan><tspan x="0" dy="14.15">samples = 3</tspan><tspan x="0" dy="14.15">value = [0, 3]</tspan><tspan x="0" dy="14.15">class = 1</tspan></text></g>
<g id="n48" class="n o" transform="translate(2464,727.5)"><rect x="-48" y="-32" width="96" height="64"/><text y="-15.7"><tspan x="0">gini = 0.0</tspan><tspan x="0" dy="14.15">samples = 1</tspan><tspan x="0" dy="14.15">value = [1, 0]</tspan><tspan x="0" dy="14.15">class = 0</tspan></text></g>
<g id="n49" class="n" transform="translate(296,841.5)"><rect x="-67" y="-39.5" width="134" height="79" fill="#e78a47"/><text y="-23"><tspan x="0">Creatinine ≤ -0.184</tspan><tspan x="0" dy="14.15">gini = 0.124</tspan><tspan x="0" dy="14.15">samples = 15</tspan><tspan x="0" dy="14.15">value = [14, 1]</tspan><tspan x="0" dy="14.15">class = 0</tspan></text></g>
<g id="n50" class="n" transform="translate(597,841.5)"><rect x="-63" y="-39.5" width="126" height="79" fill="#cee6f8"/><text y="-23"><tspan x="0">Monocytes ≤ 2.34</tspan><tspan x="0" dy="14.15">gini = 0.49</tspan><tspan x="0" dy="14.15">samples = 14</tspan><tspan x="0" dy="14.15">value = [6, 8]</tspan><tspan x="0" dy="14.15">class = 1</tspan></text></g>
<g id="n51" class="n" transform="translate(1038,841.5)"><rect x="-76" y="-39.5" width="152" height="79" fill="#e5823a"/><text y="-23"><tspan x="0">Inf A H1N1 2009 ≤ 0.5</tspan><tspan x="0" dy="14.15">gini = 0.012</tspan><tspan x="0" dy="14.15">samples = 492</tspan><tspan x="0" dy="14.15">value = [489, 3]</tspan><tspan x="0" dy="14.15">class = 0</tspan></text></g>
<g id="n52" class="n o" transform="translate(1185,841.5)"><rect x="-52" y="-32" width="104" height="64"/><text y="-15.7"><tspan x="0">gini = 0.0</tspan><tspan x="0" dy="14.15">samples = 25</tspan><tspan x="0" dy="14.15">value = [25, 0]</tspan><tspan x="0" dy="14.15">class = 0</tspan></text></g>
<g id="n53" class="n" transform="translate(1382,841.5)"><rect x="-48" y="-32" width="96" height="64" fill="#eeab7b"/><text y="-15.7"><tspan x="0">gini = 0.375</tspan><tspan x="0" dy="14.15">samples = 4</tspan><tspan x="0" dy="14.15">value = [3, 1]</tspan><tspan x="0" dy="14.15">class = 0</tspan></text></g>
<g id="n54" class="n o" transform="translate(1497,841.5)"><rect x="-48" y="-32" width="96" height="64"/><text y="-15.7"><tspan x="0">gini = 0.0</tspan><tspan x="0" dy="14.15">samples = 1</tspan><tspan x="0" dy="14.15">value = [1, 0]</tspan><tspan x="0" dy="14.15">class = 0</tspan></text></g>
<g id="n55" class="n" transform="translate(1634,841.5)"><rect x="-71" y="-39.5" width="142" height="79" fill="#e5823b"/><text y="-23"><tspan x="0">Leukocytes ≤ -0.634</tspan><tspan x="0" dy="14.15">gini = 0.019</tspan><tspan x="0" dy="14.15">samples = 107</tspan><tspan x="0" dy="14.15">value = [106, 1]</tspan><tspan x="0" dy="14.15">class = 0</tspan></text></g>
<g id="n56" class="n" transform="translate(1808,841.5)"><rect x="-71" y="-39.5" width="142" height="79" fill="#e89152"/><text y="-23"><tspan x="0">Eosinophils ≤ -0.646</tspan><tspan x="0" dy="14.15">gini = 0.198</tspan><tspan x="0" dy="14.15">samples = 2949</tspan><tspan x="0" dy="14.15">value = [2620, 329]</tspan><tspan x="0" dy="14.15">class = 0</tspan></text></g>
<g id="n57" class="n" transform="translate(2389.5,841.5)"><rect x="-87.5" y="-39.5" width="175" height="79" fill="#e5823b"/><text y="-23"><tspan x="0">Patient age quantile ≤ 3.5</tspan><tspan x="0" dy="14.15">gini = 0.022</tspan><tspan x="0" dy="14.15">samples = 178</tspan><tspan x="0" dy="14.15">value = [176, 2]</tspan><tspan x="0" dy="14.15">class = 0</tspan></text></g>
<g id="n58" class="n" transform="translate(2743,841.5)"><rect x="-77" y="-39.5" width="154" height="79" fill="#e78c4a"/><text y="-23"><tspan x="0">Lymphocytes ≤ -0.186</tspan><tspan x="0" dy="14.15">gini = 0.142</tspan><tspan x="0" dy="14.15">samples = 13</tspan><tspan x="0" dy="14.15">value = [12, 1]</tspan><tspan x="0" dy="14.15">class = 0</tspan></text></g>
<g id="n59" class="n b" transform="translate(178,955.5)"><rect x="-48" y="-32" width="96" height="64"/><text y="-15.7"><tspan x="0">gini = 0.0</tspan><tspan x="0" dy="14.15">samples = 1</tspan><tspan x="0" dy="14.15">value = [0, 1]</tspan><tspan x="0" dy="14.15">class = 1</tspan></text></g>
<g id="n60" class="n o" transform="translate(296,955.5)"><rect x="-52" y="-32" width="104" height="64"/><text y="-15.7"><tspan x="0">gini = 0.0</tspan><tspan x="0" dy="14.15">samples = 14</tspan><tspan x="0" dy="14.15">value = [14, 0]</tspan><tspan x="0" dy="14.15">class = 0</tspan></text></g>
<g id="n61" class="n" transform="translate(567,955.5)"><rect x="-201" y="-39.5" width="402" height="79" fill="#6ab6ec"/><text y="-23"><tspan x="0">Mean corpuscular hemoglobin concentration (MCHC) ≤ -1.299</tspan><tspan x="0" dy="14.15">gini = 0.32</tspan><tspan x="0" dy="14.15">samples = 10</tspan><tspan x="0" dy="14.15">value = [2, 8]</tspan><tspan x="0" dy="14.15">class = 1</tspan></text></g>
<g id="n62" class="n o" transform="translate(834,955.5)"><rect x="-48" y="-32" width="96" height="64"/><text y="-15.7"><tspan x="0">gini = 0.0</tspan><tspan x="0" dy="14.15">samples = 4</tspan><tspan x="0" dy="14.15">value = [4, 0]</tspan><tspan x="0" dy="14.15">class = 0</tspan></text></g>
<g id="n63" class="n" transform="translate(1038.5,955.5)"><rect x="-137.5" y="-39.5" width="275" height="79" fill="#e5823a"/><text y="-23"><tspan x="0">Mean corpuscular volume (MCV) ≤ -0.007</tspan><tspan x="0" dy="14.15">gini = 0.013</tspan><tspan x="0" dy="14.15">samples = 473</tspan><tspan x="0" dy="14.15">value = [470, 3]</tspan><tspan x="0" dy="14.15">class = 0</tspan></text></g>
<g id="n64" class="n o" transform="translate(1246,955.5)"><rect x="-52" y="-32" width="104" height="64"/><text y="-15.7"><tspan x="0">gini = 0.0</tspan><tspan x="0" dy="14.15">samples = 19</tspan><tspan x="0" dy="14.15">value = [19, 0]</tspan><tspan x="0" dy="14.15">class = 0</tspan></text></g>
<g id="n65" class="n" transform="translate(1438,955.5)"><rect x="-112.5" y="-39.5" width="225" height="79" fill="#ea9a61"/><text y="-23"><tspan x="0">Proteina C reativa mg/dL ≤ -0.335</tspan><tspan x="0" dy="14.15">gini = 0.278</tspan><tspan x="0" dy="14.15">samples = 6</tspan><tspan x="0" dy="14.15">value = [5, 1]</tspan><tspan x="0" dy="14.15">class = 0</tspan></text></g>
<g id="n66" class="n o" transform="translate(1625,955.5)"><rect x="-56" y="-32" width="112" height="64"/><text y="-15.7"><tspan x="0">gini = 0.0</tspan><tspan x="0" dy="14.15">samples = 101</tspan><tspan x="0" dy="14.15">value = [101, 0]</tspan><tspan x="0" dy="14.15">class = 0</tspan></text></g>
<g id="n67" class="n" transform="translate(1764,955.5)"><rect x="-65" y="-39.5" width="130" height="79" fill="#f5ceb3"/><text y="-23"><tspan x="0">Creatinine ≤ 0.436</tspan><tspan x="0" dy="14.15">gini = 0.472</tspan><tspan x="0" dy="14.15">samples = 21</tspan><tspan x="0" dy="14.15">value = [13, 8]</tspan><tspan x="0" dy="14.15">class = 0</tspan></text></g>
<g id="n68" class="n" transform="translate(1963,955.5)"><rect x="-115.5" y="-39.5" width="231" height="79" fill="#e89051"/><text y="-23"><tspan x="0">Urine - Aspect_lightly_cloudy ≤ 0.5</tspan><tspan x="0" dy="14.15">gini = 0.195</tspan><tspan x="0" dy="14.15">samples = 2928</tspan><tspan x="0" dy="14.15">value = [2607, 321]</tspan><tspan x="0" dy="14.15">class = 0</tspan></text></g>
<g id="n69" class="n" transform="translate(2389,955.5)"><rect x="-71" y="-39.5" width="142" height="79" fill="#e78b48"/><text y="-23"><tspan x="0">Eosinophils ≤ -0.102</tspan><tspan x="0" dy="14.15">gini = 0.133</tspan><tspan x="0" dy="14.15">samples = 14</tspan><tspan x="0" dy="14.15">value = [13, 1]</tspan><tspan x="0" dy="14.15">class = 0</tspan></text></g>
<g id="n70" class="n" transform="translate(2589,955.5)"><rect x="-87" y="-39.5" width="174" height="79" fill="#e5823a"/><text y="-23"><tspan x="0">Patient age quantile ≤ 7.5</tspan><tspan x="0" dy="14.15">gini = 0.012</tspan><tspan x="0" dy="14.15">samples = 164</tspan><tspan x="0" dy="14.15">value = [163, 1]</tspan><tspan x="0" dy="14.15">class = 0</tspan></text></g>
<g id="n71" class="n o" transform="translate(2743,955.5)"><rect x="-48" y="-32" width="96" height="64"/><text y="-15.7"><tspan x="0">gini = 0.0</tspan><tspan x="0" dy="14.15">samples = 6</tspan><tspan x="0" dy="14.15">value = [6, 0]</tspan><tspan x="0" dy="14.15">class = 0</tspan></text></g>
<g id="n72" class="n" transform="translate(2858,955.5)"><rect x="-48" y="-32" width="96" height="64" fill="#e9965a"/><text y="-15.7"><tspan x="0">gini = 0.245</tspan><tspan x="0" dy="14.15">samples = 7</tspan><tspan x="0" dy="14.15">value = [6, 1]</tspan><tspan x="0" dy="14.15">class = 0</tspan></text></g>
<g id="n73" class="n o" transform="translate(509,1069.5)"><rect x="-48" y="-32" width="96" height="64"/><text y="-15.7"><tspan x="0">gini = 0.0</tspan><tspan x="0" dy="14.15">samples = 2</tspan><tspan x="0" dy="14.15">value = [2, 0]</tspan><tspan x="0" dy="14.15">class = 0</tspan></text></g>
<g id="n74" class="n b" transform="translate(624,1069.5)"><rect x="-48" y="-32" width="96" height="64"/><text y="-15.7"><tspan x="0">gini = 0.0</tspan><tspan x="0" dy="14.15">samples = 8</tspan><tspan x="0" dy="14.15">value = [0, 8]</tspan><tspan x="0" dy="14.15">class = 1</tspan></text></g>
<g id="n75" class="n o" transform="translate(919.5,1069.5)"><rect x="-52" y="-32" width="104" height="64"/><text y="-15.7"><tspan x="0">gini = 0.0</tspan><tspan x="0" dy="14.15">samples = 15</tspan><tspan x="0" dy="14.15">value = [15, 0]</tspan><tspan x="0" dy="14.15">class = 0</tspan></text></g>
<g id="n76" class="n" transform="translate(1082,1069.5)"><rect x="-93.5" y="-39.5" width="187" height="79" fill="#e5823a"/><text y="-23"><tspan x="0">Influenza B, rapid test ≤ 0.5</tspan><tspan x="0" dy="14.15">gini = 0.013</tspan><tspan x="0" dy="14.15">samples = 458</tspan><tspan x="0" dy="14.15">value = [455, 3]</tspan><tspan x="0" dy="14.15">class = 0</tspan></text></g>
<g id="n77" class="n o" transform="translate(1326,1069.5)"><rect x="-48" y="-32" width="96" height="64"/><text y="-15.7"><tspan x="0">gini = 0.0</tspan><tspan x="0" dy="14.15">samples = 5</tspan><tspan x="0" dy="14.15">value = [5, 0]</tspan><tspan x="0" dy="14.15">class = 0</tspan></text></g>
<g id="n78" class="n b" transform="translate(1441,1069.5)"><rect x="-48" y="-32" width="96" height="64"/><text y="-15.7"><tspan x="0">gini = 0.0</tspan><tspan x="0" dy="14.15">samples = 1</tspan><tspan x="0" dy="14.15">value = [0, 1]</tspan><tspan x="0" dy="14.15">class = 1</tspan></text></g>
<g id="n79" class="n" transform="translate(1570,1069.5)"><rect x="-57" y="-39.5" width="114" height="79" fill="#cee6f8"/><text y="-23"><tspan x="0">Sodium ≤ 0.072</tspan><tspan x="0" dy="14.15">gini = 0.49</tspan><tspan x="0" dy="14.15">samples = 14</tspan><tspan x="0" dy="14.15">value = [6, 8]</tspan><tspan x="0" dy="14.15">class = 1</tspan></text></g>
<g id="n80" class="n o" transform="translate(1693,1069.5)"><rect x="-48" y="-32" width="96" height="64"/><text y="-15.7"><tspan x="0">gini = 0.0</tspan><tspan x="0" dy="14.15">samples = 7</tspan><tspan x="0" dy="14.15">value = [7, 0]</tspan><tspan x="0" dy="14.15">class = 0</tspan></text></g>
<g id="n81" class="n" transform="translate(1960,1069.5)"><rect x="-201" y="-39.5" width="402" height="79" fill="#e89051"/><text y="-23"><tspan x="0">Mean corpuscular hemoglobin concentration (MCHC) ≤ -0.027</tspan><tspan x="0" dy="14.15">gini = 0.195</tspan><tspan x="0" dy="14.15">samples = 2927</tspan><tspan x="0" dy="14.15">value = [2607, 320]</tspan><tspan x="0" dy="14.15">class = 0</tspan></text></g>
<g id="n82" class="n b" transform="translate(2228,1069.5)"><rect x="-48" y="-32" width="96" height="64"/><text y="-15.7"><tspan x="0">gini = 0.0</tspan><tspan x="0" dy="14.15">samples = 1</tspan><tspan x="0" dy="14.15">value = [0, 1]</tspan><tspan x="0" dy="14.15">class = 1</tspan></text></g>
<g id="n83" class="n o" transform="translate(2342,1069.5)"><rect x="-48" y="-32" width="96" height="64"/><text y="-15.7"><tspan x="0">gini = 0.0</tspan><tspan x="0" dy="14.15">samples = 4</tspan><tspan x="0" dy="14.15">value = [4, 0]</tspan><tspan x="0" dy="14.15">class = 0</tspan></text></g>
<g id="n84" class="n" transform="translate(2458,1069.5)"><rect x="-50" y="-32" width="100" height="64" fill="#e88f4f"/><text y="-15.7"><tspan x="0">gini = 0.18</tspan><tspan x="0" dy="14.15">samples = 10</tspan><tspan x="0" dy="14.15">value = [9, 1]</tspan><tspan x="0" dy="14.15">class = 0</tspan></text></g>
<g id="n85" class="n" transform="translate(2613,1069.5)"><rect x="-87" y="-39.5" width="174" height="79" fill="#e6843e"/><text y="-23"><tspan x="0">Patient age quantile ≤ 6.5</tspan><tspan x="0" dy="14.15">gini = 0.05</tspan><tspan x="0" dy="14.15">samples = 39</tspan><tspan x="0" dy="14.15">value = [38, 1]</tspan><tspan x="0" dy="14.15">class = 0</tspan></text></g>
<g id="n86" class="n o" transform="translate(2774,1069.5)"><rect x="-56" y="-32" width="112" height="64"/><text y="-15.7"><tspan x="0">gini = 0.0</tspan><tspan x="0" dy="14.15">samples = 125</tspan><tspan x="0" dy="14.15">value = [125, 0]</tspan><tspan x="0" dy="14.15">class = 0</tspan></text></g>
<g id="n87" class="n" transform="translate(1032,1183.5)"><rect x="-92" y="-39.5" width="184" height="79" fill="#e5823a"/><text y="-23"><tspan x="0">Influenza A, rapid test ≤ 0.5</tspan><tspan x="0" dy="14.15">gini = 0.013</tspan><tspan x="0" dy="14.15">samples = 444</tspan><tspan x="0" dy="14.15">value = [441, 3]</tspan><tspan x="0" dy="14.15">class = 0</tspan></text></g>
<g id="n88" class="n o" transform="translate(1195,1183.5)"><rect x="-52.5" y="-32" width="105" height="64"/><text y="-15.7"><tspan x="0">gini = 0.0</tspan><tspan x="0" dy="14.15">samples = 14</tspan><tspan x="0" dy="14.15">value = [14, 0]</tspan><tspan x="0" dy="14.15">class = 0</tspan></text></g>
<g id="n89" class="n" transform="translate(1489.5,1183.5)"><rect x="-135.5" y="-39.5" width="271" height="79" fill="#55abe9"/><text y="-23"><tspan x="0">Mean corpuscular volume (MCV) ≤ 0.757</tspan><tspan x="0" dy="14.15">gini = 0.219</tspan><tspan x="0" dy="14.15">samples = 8</tspan><tspan x="0" dy="14.15">value = [1, 7]</tspan><tspan x="0" dy="14.15">class = 1</tspan></text></g>
<g id="n90" class="n" transform="translate(1720,1183.5)"><rect x="-77.5" y="-39.5" width="155" height="79" fill="#ea9a61"/><text y="-23"><tspan x="0">Total Bilirubin ≤ -0.634</tspan><tspan x="0" dy="14.15">gini = 0.278</tspan><tspan x="0" dy="14.15">samples = 6</tspan><tspan x="0" dy="14.15">value = [5, 1]</tspan><tspan x="0" dy="14.15">class = 0</tspan></text></g>
<g id="n91" class="n o" transform="translate(1954,1183.5)"><rect x="-52" y="-32" width="104" height="64"/><text y="-15.7"><tspan x="0">gini = 0.0</tspan><tspan x="0" dy="14.15">samples = 45</tspan><tspan x="0" dy="14.15">value = [45, 0]</tspan><tspan x="0" dy="14.15">class = 0</tspan></text></g>
<g id="n92" class="n" transform="translate(2092,1183.5)"><rect x="-68" y="-39.5" width="136" height="79" fill="#e89152"/><text y="-23"><tspan x="0">Creatinine ≤ 1.418</tspan><tspan x="0" dy="14.15">gini = 0.197</tspan><tspan x="0" dy="14.15">samples = 2882</tspan><tspan x="0" dy="14.15">value = [2562, 320]</tspan><tspan x="0" dy="14.15">class = 0</tspan></text></g>
<g id="n93" class="n o" transform="translate(2522,1183.5)"><rect x="-52.5" y="-32" width="105" height="64"/><text y="-15.7"><tspan x="0">gini = 0.0</tspan><tspan x="0" dy="14.15">samples = 29</tspan><tspan x="0" dy="14.15">value = [29, 0]</tspan><tspan x="0" dy="14.15">class = 0</tspan></text></g>
<g id="n94" class="n" transform="translate(2704,1183.5)"><rect x="-112.5" y="-39.5" width="225" height="79" fill="#e88f4f"/><text y="-23"><tspan x="0">Proteina C reativa mg/dL ≤ -0.211</tspan><tspan x="0" dy="14.15">gini = 0.18</tspan><tspan x="0" dy="14.15">samples = 10</tspan><tspan x="0" dy="14.15">value = [9, 1]</tspan><tspan x="0" dy="14.15">class = 0</tspan></text></g>
<g id="n95" class="n" transform="translate(960,1297.5)"><rect x="-87" y="-39.5" width="174" height="79" fill="#e5823a"/><text y="-23"><tspan x="0">Patient age quantile ≤ 1.5</tspan><tspan x="0" dy="14.15">gini = 0.014</tspan><tspan x="0" dy="14.15">samples = 432</tspan><tspan x="0" dy="14.15">value = [429, 3]</tspan><tspan x="0" dy="14.15">class = 0</tspan></text></g>
<g id="n96" class="n o" transform="translate(1118,1297.5)"><rect x="-52.5" y="-32" width="105" height="64"/><text y="-15.7"><tspan x="0">gini = 0.0</tspan><tspan x="0" dy="14.15">samples = 12</tspan><tspan x="0" dy="14.15">value = [12, 0]</tspan><tspan x="0" dy="14.15">class = 0</tspan></text></g>
<g id="n97" class="n b" transform="translate(1432,1297.5)"><rect x="-48" y="-32" width="96" height="64"/><text y="-15.7"><tspan x="0">gini = 0.0</tspan><tspan x="0" dy="14.15">samples = 7</tspan><tspan x="0" dy="14.15">value = [0, 7]</tspan><tspan x="0" dy="14.15">class = 1</tspan></text></g>
<g id="n98" class="n o" transform="translate(1547.5,1297.5)"><rect x="-48" y="-32" width="96" height="64"/><text y="-15.7"><tspan x="0">gini = 0.0</tspan><tspan x="0" dy="14.15">samples = 1</tspan><tspan x="0" dy="14.15">value = [1, 0]</tspan><tspan x="0" dy="14.15">class = 0</tspan></text></g>
<g id="n99" class="n b" transform="translate(1691.5,1297.5)"><rect x="-48" y="-32" width="96" height="64"/><text y="-15.7"><tspan x="0">gini = 0.0</tspan><tspan x="0" dy="14.15">samples = 1</tspan><tspan x="0" dy="14.15">value = [0, 1]</tspan><tspan x="0" dy="14.15">class = 1</tspan></text></g>
<g id="n100" class="n o" transform="translate(1807,1297.5)"><rect x="-48" y="-32" width="96" height="64"/><text y="-15.7"><tspan x="0">gini = 0.0</tspan><tspan x="0" dy="14.15">samples = 5</tspan><tspan x="0" dy="14.15">value = [5, 0]</tspan><tspan x="0" dy="14.15">class = 0</tspan></text></g>
<g id="n101" class="n" transform="translate(2058,1297.5)"><rect x="-69" y="-39.5" width="138" height="79" fill="#e89152"/><text y="-23"><tspan x="0">Monocytes ≤ -0.194</tspan><tspan x="0" dy="14.15">gini = 0.197</tspan><tspan x="0" dy="14.15">samples = 2881</tspan><tspan x="0" dy="14.15">value = [2562, 319]</tspan><tspan x="0" dy="14.15">class = 0</tspan></text></g>
<g id="n102" class="n b" transform="translate(2194.5,1297.5)"><rect x="-48" y="-32" width="96" height="64"/><text y="-15.7"><tspan x="0">gini = 0.0</tspan><tspan x="0" dy="14.15">samples = 1</tspan><tspan x="0" dy="14.15">value = [0, 1]</tspan><tspan x="0" dy="14.15">class = 1</tspan></text></g>
<g id="n103" class="n o" transform="translate(2646,1297.5)"><rect x="-47.5" y="-32" width="95" height="64"/><text y="-15.7"><tspan x="0">gini = 0.0</tspan><tspan x="0" dy="14.15">samples = 3</tspan><tspan x="0" dy="14.15">value = [3, 0]</tspan><tspan x="0" dy="14.15">class = 0</tspan></text></g>
<g id="n104" class="n" transform="translate(2761,1297.5)"><rect x="-47.5" y="-32" width="95" height="64" fill="#e9965a"/><text y="-15.7"><tspan x="0">gini = 0.245</tspan><tspan x="0" dy="14.15">samples = 7</tspan><tspan x="0" dy="14.15">value = [6, 1]</tspan><tspan x="0" dy="14.15">class = 0</tspan></text></g>
<g id="n105" class="n" transform="translate(831,1411.5)"><rect x="-72.5" y="-39.5" width="145" height="79" fill="#e5823b"/><text y="-23"><tspan x="0">Urine - Color_0 ≤ 0.5</tspan><tspan x="0" dy="14.15">gini = 0.015</tspan><tspan x="0" dy="14.15">samples = 257</tspan><tspan x="0" dy="14.15">value = [255, 2]</tspan><tspan x="0" dy="14.15">class = 0</tspan></text></g>
<g id="n106" class="n" transform="translate(985,1411.5)"><rect x="-56" y="-39.5" width="112" height="79" fill="#e5823a"/><text y="-23"><tspan x="0">Strepto A ≤ 0.5</tspan><tspan x="0" dy="14.15">gini = 0.011</tspan><tspan x="0" dy="14.15">samples = 175</tspan><tspan x="0" dy="14.15">value = [174, 1]</tspan><tspan x="0" dy="14.15">class = 0</tspan></text></g>
<g id="n107" class="n b" transform="translate(1954,1411.5)"><rect x="-48" y="-32" width="96" height="64"/><text y="-15.7"><tspan x="0">gini = 0.0</tspan><tspan x="0" dy="14.15">samples = 1</tspan><tspan x="0" dy="14.15">value = [0, 1]</tspan><tspan x="0" dy="14.15">class = 1</tspan></text></g>
<g id="n108" class="n" transform="translate(2112,1411.5)"><rect x="-92" y="-39.5" width="184" height="79" fill="#e89152"/><text y="-23"><tspan x="0">Patient age quantile ≤ 16.5</tspan><tspan x="0" dy="14.15">gini = 0.196</tspan><tspan x="0" dy="14.15">samples = 2880</tspan><tspan x="0" dy="14.15">value = [2562, 318]</tspan><tspan x="0" dy="14.15">class = 0</tspan></text></g>
<g id="n109" class="n o" transform="translate(709,1525.5)"><rect x="-48" y="-32" width="96" height="64"/><text y="-15.7"><tspan x="0">gini = 0.0</tspan><tspan x="0" dy="14.15">samples = 5</tspan><tspan x="0" dy="14.15">value = [5, 0]</tspan><tspan x="0" dy="14.15">class = 0</tspan></text></g>
<g id="n110" class="n" transform="translate(831.5,1525.5)"><rect x="-56.5" y="-39.5" width="113" height="79" fill="#e5823b"/><text y="-23"><tspan x="0">Strepto A ≤ 0.5</tspan><tspan x="0" dy="14.15">gini = 0.016</tspan><tspan x="0" dy="14.15">samples = 252</tspan><tspan x="0" dy="14.15">value = [250, 2]</tspan><tspan x="0" dy="14.15">class = 0</tspan></text></g>
<g id="n111" class="n" transform="translate(984.5,1525.5)"><rect x="-79" y="-39.5" width="158" height="79" fill="#e5823a"/><text y="-23"><tspan x="0">CoronavirusNL63 ≤ 0.5</tspan><tspan x="0" dy="14.15">gini = 0.011</tspan><tspan x="0" dy="14.15">samples = 173</tspan><tspan x="0" dy="14.15">value = [172, 1]</tspan><tspan x="0" dy="14.15">class = 0</tspan></text></g>
<g id="n112" class="n o" transform="translate(1131,1525.5)"><rect x="-48" y="-32" width="96" height="64"/><text y="-15.7"><tspan x="0">gini = 0.0</tspan><tspan x="0" dy="14.15">samples = 2</tspan><tspan x="0" dy="14.15">value = [2, 0]</tspan><tspan x="0" dy="14.15">class = 0</tspan></text></g>
<g id="n113" class="n" transform="translate(2062,1525.5)"><rect x="-76" y="-39.5" width="152" height="79" fill="#e89153"/><text y="-23"><tspan x="0">Inf A H1N1 2009 ≤ 0.5</tspan><tspan x="0" dy="14.15">gini = 0.205</tspan><tspan x="0" dy="14.15">samples = 2423</tspan><tspan x="0" dy="14.15">value = [2142, 281]</tspan><tspan x="0" dy="14.15">class = 0</tspan></text></g>
<g id="n114" class="n" transform="translate(2301,1525.5)"><rect x="-93.5" y="-39.5" width="187" height="79" fill="#e78c4a"/><text y="-23"><tspan x="0">Influenza B, rapid test ≤ 0.5</tspan><tspan x="0" dy="14.15">gini = 0.149</tspan><tspan x="0" dy="14.15">samples = 457</tspan><tspan x="0" dy="14.15">value = [420, 37]</tspan><tspan x="0" dy="14.15">class = 0</tspan></text></g>
<g id="n115" class="n" transform="translate(685,1639.5)"><rect x="-79" y="-39.5" width="158" height="79" fill="#e5823b"/><text y="-23"><tspan x="0">CoronavirusNL63 ≤ 0.5</tspan><tspan x="0" dy="14.15">gini = 0.016</tspan><tspan x="0" dy="14.15">samples = 247</tspan><tspan x="0" dy="14.15">value = [245, 2]</tspan><tspan x="0" dy="14.15">class = 0</tspan></text></g>
<g id="n116" class="n o" transform="translate(831,1639.5)"><rect x="-48" y="-32" width="96" height="64"/><text y="-15.7"><tspan x="0">gini = 0.0</tspan><tspan x="0" dy="14.15">samples = 5</tspan><tspan x="0" dy="14.15">value = [5, 0]</tspan><tspan x="0" dy="14.15">class = 0</tspan></text></g>
<g id="n117" class="n" transform="translate(984,1639.5)"><rect x="-87" y="-39.5" width="174" height="79" fill="#e5823a"/><text y="-23"><tspan x="0">Bordetella pertussis ≤ 0.5</tspan><tspan x="0" dy="14.15">gini = 0.012</tspan><tspan x="0" dy="14.15">samples = 172</tspan><tspan x="0" dy="14.15">value = [171, 1]</tspan><tspan x="0" dy="14.15">class = 0</tspan></text></g>
<g id="n118" class="n o" transform="translate(1137,1639.5)"><rect x="-48" y="-32" width="96" height="64"/><text y="-15.7"><tspan x="0">gini = 0.0</tspan><tspan x="0" dy="14.15">samples = 1</tspan><tspan x="0" dy="14.15">value = [1, 0]</tspan><tspan x="0" dy="14.15">class = 0</tspan></text></g>
<g id="n119" class="n" transform="translate(1819,1639.5)"><rect x="-87" y="-39.5" width="174" height="79" fill="#e89253"/><text y="-23"><tspan x="0">Patient age quantile ≤ 3.5</tspan><tspan x="0" dy="14.15">gini = 0.207</tspan><tspan x="0" dy="14.15">samples = 2391</tspan><tspan x="0" dy="14.15">value = [2110, 281]</tspan><tspan x="0" dy="14.15">class = 0</tspan></text></g>
<g id="n120" class="n o" transform="translate(2062,1639.5)"><rect x="-52" y="-32" width="104" height="64"/><text y="-15.7"><tspan x="0">gini = 0.0</tspan><tspan x="0" dy="14.15">samples = 32</tspan><tspan x="0" dy="14.15">value = [32, 0]</tspan><tspan x="0" dy="14.15">class = 0</tspan></text></g>
<g id="n121" class="n" transform="translate(2301,1639.5)"><rect x="-91.5" y="-39.5" width="183" height="79" fill="#e78c4a"/><text y="-23"><tspan x="0">Patient age quantile ≤ 18.5</tspan><tspan x="0" dy="14.15">gini = 0.145</tspan><tspan x="0" dy="14.15">samples = 456</tspan><tspan x="0" dy="14.15">value = [420, 36]</tspan><tspan x="0" dy="14.15">class = 0</tspan></text></g>
<g id="n122" class="n b" transform="translate(2459,1639.5)"><rect x="-47.5" y="-32" width="95" height="64"/><text y="-15.7"><tspan x="0">gini = 0.0</tspan><tspan x="0" dy="14.15">samples = 1</tspan><tspan x="0" dy="14.15">value = [0, 1]</tspan><tspan x="0" dy="14.15">class = 1</tspan></text></g>
<g id="n123" class="n" transform="translate(601,1753.5)"><rect x="-74" y="-39.5" width="148" height="79" fill="#e5823b"/><text y="-23"><tspan x="0">Parainfluenza 4 ≤ 0.5</tspan><tspan x="0" dy="14.15">gini = 0.016</tspan><tspan x="0" dy="14.15">samples = 243</tspan><tspan x="0" dy="14.15">value = [241, 2]</tspan><tspan x="0" dy="14.15">class = 0</tspan></text></g>
<g id="n124" class="n o" transform="translate(741,1753.5)"><rect x="-48" y="-32" width="96" height="64"/><text y="-15.7"><tspan x="0">gini = 0.0</tspan><tspan x="0" dy="14.15">samples = 4</tspan><tspan x="0" dy="14.15">value = [4, 0]</tspan><tspan x="0" dy="14.15">class = 0</tspan></text></g>
<g id="n125" class="n" transform="translate(890,1753.5)"><rect x="-79.5" y="-39.5" width="159" height="79" fill="#e5823a"/><text y="-23"><tspan x="0">Coronavirus229E ≤ 0.5</tspan><tspan x="0" dy="14.15">gini = 0.012</tspan><tspan x="0" dy="14.15">samples = 171</tspan><tspan x="0" dy="14.15">value = [170, 1]</tspan><tspan x="0" dy="14.15">class = 0</tspan></text></g>
<g id="n126" class="n o" transform="translate(1036,1753.5)"><rect x="-48" y="-32" width="96" height="64"/><text y="-15.7"><tspan x="0">gini = 0.0</tspan><tspan x="0" dy="14.15">samples = 1</tspan><tspan x="0" dy="14.15">value = [1, 0]</tspan><tspan x="0" dy="14.15">class = 0</tspan></text></g>
<g id="n127" class="n" transform="translate(1479,1753.5)"><rect x="-59.5" y="-39.5" width="119" height="79" fill="#e78b49"/><text y="-23"><tspan x="0">Strepto A ≤ 0.5</tspan><tspan x="0" dy="14.15">gini = 0.141</tspan><tspan x="0" dy="14.15">samples = 170</tspan><tspan x="0" dy="14.15">value = [157, 13]</tspan><tspan x="0" dy="14.15">class = 0</tspan></text></g>
<g id="n128" class="n" transform="translate(1819,1753.5)"><rect x="-87" y="-39.5" width="174" height="79" fill="#e99254"/><text y="-23"><tspan x="0">Patient age quantile ≤ 6.5</tspan><tspan x="0" dy="14.15">gini = 0.212</tspan><tspan x="0" dy="14.15">samples = 2221</tspan><tspan x="0" dy="14.15">value = [1953, 268]</tspan><tspan x="0" dy="14.15">class = 0</tspan></text></g>
<g id="n129" class="n" transform="translate(2301,1753.5)"><rect x="-91.5" y="-39.5" width="183" height="79" fill="#e78946"/><text y="-23"><tspan x="0">Patient age quantile ≤ 17.5</tspan><tspan x="0" dy="14.15">gini = 0.113</tspan><tspan x="0" dy="14.15">samples = 300</tspan><tspan x="0" dy="14.15">value = [282, 18]</tspan><tspan x="0" dy="14.15">class = 0</tspan></text></g>
<g id="n130" class="n" transform="translate(2678,1753.5)"><rect x="-68" y="-39.5" width="136" height="79" fill="#e89153"/><text y="-23"><tspan x="0">Potassium ≤ -0.029</tspan><tspan x="0" dy="14.15">gini = 0.204</tspan><tspan x="0" dy="14.15">samples = 156</tspan><tspan x="0" dy="14.15">value = [138, 18]</tspan><tspan x="0" dy="14.15">class = 0</tspan></text></g>
<g id="n131" class="n" transform="translate(476,1867.5)"><rect x="-86.5" y="-39.5" width="173" height="79" fill="#e5823b"/><text y="-23"><tspan x="0">Patient age quantile ≤ 0.5</tspan><tspan x="0" dy="14.15">gini = 0.017</tspan><tspan x="0" dy="14.15">samples = 240</tspan><tspan x="0" dy="14.15">value = [238, 2]</tspan><tspan x="0" dy="14.15">class = 0</tspan></text></g>
<g id="n132" class="n o" transform="translate(630.5,1867.5)"><rect x="-47.5" y="-32" width="95" height="64"/><text y="-15.7"><tspan x="0">gini = 0.0</tspan><tspan x="0" dy="14.15">samples = 3</tspan><tspan x="0" dy="14.15">value = [3, 0]</tspan><tspan x="0" dy="14.15">class = 0</tspan></text></g>
<g id="n133" class="n" transform="translate(792,1867.5)"><rect x="-67" y="-39.5" width="134" height="79" fill="#e5823a"/><text y="-23"><tspan x="0">Hematocrit ≤ 0.381</tspan><tspan x="0" dy="14.15">gini = 0.012</tspan><tspan x="0" dy="14.15">samples = 170</tspan><tspan x="0" dy="14.15">value = [169, 1]</tspan><tspan x="0" dy="14.15">class = 0</tspan></text></g>
<g id="n134" class="n o" transform="translate(924.5,1867.5)"><rect x="-47.5" y="-32" width="95" height="64"/><text y="-15.7"><tspan x="0">gini = 0.0</tspan><tspan x="0" dy="14.15">samples = 1</tspan><tspan x="0" dy="14.15">value = [1, 0]</tspan><tspan x="0" dy="14.15">class = 0</tspan></text></g>
<g id="n135" class="n" transform="translate(1248,1867.5)"><rect x="-60" y="-39.5" width="120" height="79" fill="#e78c4a"/><text y="-23"><tspan x="0">Influenza B ≤ 0.5</tspan><tspan x="0" dy="14.15">gini = 0.145</tspan><tspan x="0" dy="14.15">samples = 165</tspan><tspan x="0" dy="14.15">value = [152, 13]</tspan><tspan x="0" dy="14.15">class = 0</tspan></text></g>
<g id="n136" class="n o" transform="translate(1479,1867.5)"><rect x="-48" y="-32" width="96" height="64"/><text y="-15.7"><tspan x="0">gini = 0.0</tspan><tspan x="0" dy="14.15">samples = 5</tspan><tspan x="0" dy="14.15">value = [5, 0]</tspan><tspan x="0" dy="14.15">class = 0</tspan></text></g>
<g id="n137" class="n" transform="translate(1780,1867.5)"><rect x="-80" y="-39.5" width="160" height="79" fill="#e99559"/><text y="-23"><tspan x="0">CoronavirusNL63 ≤ 0.5</tspan><tspan x="0" dy="14.15">gini = 0.24</tspan><tspan x="0" dy="14.15">samples = 587</tspan><tspan x="0" dy="14.15">value = [505, 82]</tspan><tspan x="0" dy="14.15">class = 0</tspan></text></g>
<g id="n138" class="n" transform="translate(1955.5,1867.5)"><rect x="-74.5" y="-39.5" width="149" height="79" fill="#e89152"/><text y="-23"><tspan x="0">Lymphocytes ≤ 0.006</tspan><tspan x="0" dy="14.15">gini = 0.202</tspan><tspan x="0" dy="14.15">samples = 1634</tspan><tspan x="0" dy="14.15">value = [1448, 186]</tspan><tspan x="0" dy="14.15">class = 0</tspan></text></g>
<g id="n139" class="n" transform="translate(2284,1867.5)"><rect x="-149.5" y="-39.5" width="299" height="79" fill="#e68742"/><text y="-23"><tspan x="0">Mean corpuscular hemoglobin (MCH) ≤ 0.063</tspan><tspan x="0" dy="14.15">gini = 0.084</tspan><tspan x="0" dy="14.15">samples = 160</tspan><tspan x="0" dy="14.15">value = [153, 7]</tspan><tspan x="0" dy="14.15">class = 0</tspan></text></g>
<g id="n140" class="n" transform="translate(2532,1867.5)"><rect x="-80" y="-39.5" width="160" height="79" fill="#e78c4a"/><text y="-23"><tspan x="0">CoronavirusNL63 ≤ 0.5</tspan><tspan x="0" dy="14.15">gini = 0.145</tspan><tspan x="0" dy="14.15">samples = 140</tspan><tspan x="0" dy="14.15">value = [129, 11]</tspan><tspan x="0" dy="14.15">class = 0</tspan></text></g>
<g id="n141" class="n o" transform="translate(2678,1867.5)"><rect x="-47.5" y="-32" width="95" height="64"/><text y="-15.7"><tspan x="0">gini = 0.0</tspan><tspan x="0" dy="14.15">samples = 3</tspan><tspan x="0" dy="14.15">value = [3, 0]</tspan><tspan x="0" dy="14.15">class = 0</tspan></text></g>
<g id="n142" class="n" transform="translate(2826,1867.5)"><rect x="-82" y="-39.5" width="164" height="79" fill="#e89253"/><text y="-23"><tspan x="0">Urine - Crystals_0 ≤ 0.5</tspan><tspan x="0" dy="14.15">gini = 0.208</tspan><tspan x="0" dy="14.15">samples = 153</tspan><tspan x="0" dy="14.15">value = [135, 18]</tspan><tspan x="0" dy="14.15">class = 0</tspan></text></g>
<g id="n143" class="n" transform="translate(328.5,1981.5)"><rect x="-81.5" y="-39.5" width="163" height="79" fill="#e5823b"/><text y="-23"><tspan x="0">Metapneumovirus ≤ 0.5</tspan><tspan x="0" dy="14.15">gini = 0.015</tspan><tspan x="0" dy="14.15">samples = 131</tspan><tspan x="0" dy="14.15">value = [130, 1]</tspan><tspan x="0" dy="14.15">class = 0</tspan></text></g>
<g id="n144" class="n" transform="translate(507,1981.5)"><rect x="-79.5" y="-39.5" width="159" height="79" fill="#e5823b"/><text y="-23"><tspan x="0">Coronavirus229E ≤ 0.5</tspan><tspan x="0" dy="14.15">gini = 0.018</tspan><tspan x="0" dy="14.15">samples = 109</tspan><tspan x="0" dy="14.15">value = [108, 1]</tspan><tspan x="0" dy="14.15">class = 0</tspan></text></g>
<g id="n145" class="n" transform="translate(695,1981.5)"><rect x="-56" y="-32" width="112" height="64" fill="#e5823a"/><text y="-15.7"><tspan x="0">gini = 0.012</tspan><tspan x="0" dy="14.15">samples = 169</tspan><tspan x="0" dy="14.15">value = [168, 1]</tspan><tspan x="0" dy="14.15">class = 0</tspan></text></g>
<g id="n146" class="n o" transform="translate(817,1981.5)"><rect x="-47.5" y="-32" width="95" height="64"/><text y="-15.7"><tspan x="0">gini = 0.0</tspan><tspan x="0" dy="14.15">samples = 1</tspan><tspan x="0" dy="14.15">value = [1, 0]</tspan><tspan x="0" dy="14.15">class = 0</tspan></text></g>
<g id="n147" class="n" transform="translate(1005,1981.5)"><rect x="-112.5" y="-39.5" width="225" height="79" fill="#e78c4a"/><text y="-23"><tspan x="0">Proteina C reativa mg/dL ≤ -0.251</tspan><tspan x="0" dy="14.15">gini = 0.147</tspan><tspan x="0" dy="14.15">samples = 163</tspan><tspan x="0" dy="14.15">value = [150, 13]</tspan><tspan x="0" dy="14.15">class = 0</tspan></text></g>
<g id="n148" class="n o" transform="translate(1248.5,1981.5)"><rect x="-48" y="-32" width="96" height="64"/><text y="-15.7"><tspan x="0">gini = 0.0</tspan><tspan x="0" dy="14.15">samples = 2</tspan><tspan x="0" dy="14.15">value = [2, 0]</tspan><tspan x="0" dy="14.15">class = 0</tspan></text></g>
<g id="n149" class="n" transform="translate(1520,1981.5)"><rect x="-155" y="-39.5" width="310" height="79" fill="#e99559"/><text y="-23"><tspan x="0">Red blood cell distribution width (RDW) ≤ 0.481</tspan><tspan x="0" dy="14.15">gini = 0.239</tspan><tspan x="0" dy="14.15">samples = 585</tspan><tspan x="0" dy="14.15">value = [504, 81]</tspan><tspan x="0" dy="14.15">class = 0</tspan></text></g>
<g id="n150" class="n" transform="translate(1780,1981.5)"><rect x="-87" y="-39.5" width="174" height="79" fill="#ffffff"/><text y="-23"><tspan x="0">Patient age quantile ≤ 4.5</tspan><tspan x="0" dy="14.15">gini = 0.5</tspan><tspan x="0" dy="14.15">samples = 2</tspan><tspan x="0" dy="14.15">value = [1, 1]</tspan><tspan x="0" dy="14.15">class = 0</tspan></text></g>
<g id="n151" class="n" transform="translate(1956,1981.5)"><rect x="-71" y="-39.5" width="142" height="79" fill="#e89153"/><text y="-23"><tspan x="0">Leukocytes ≤ -0.602</tspan><tspan x="0" dy="14.15">gini = 0.203</tspan><tspan x="0" dy="14.15">samples = 1618</tspan><tspan x="0" dy="14.15">value = [1432, 186]</tspan><tspan x="0" dy="14.15">class = 0</tspan></text></g>
<g id="n152" class="n o" transform="translate(2097,1981.5)"><rect x="-52" y="-32" width="104" height="64"/><text y="-15.7"><tspan x="0">gini = 0.0</tspan><tspan x="0" dy="14.15">samples = 16</tspan><tspan x="0" dy="14.15">value = [16, 0]</tspan><tspan x="0" dy="14.15">class = 0</tspan></text></g>
<g id="n153" class="n" transform="translate(2259,1981.5)"><rect x="-79.5" y="-39.5" width="159" height="79" fill="#e68742"/><text y="-23"><tspan x="0">Coronavirus229E ≤ 0.5</tspan><tspan x="0" dy="14.15">gini = 0.085</tspan><tspan x="0" dy="14.15">samples = 157</tspan><tspan x="0" dy="14.15">value = [150, 7]</tspan><tspan x="0" dy="14.15">class = 0</tspan></text></g>
<g id="n154" class="n o" transform="translate(2405,1981.5)"><rect x="-48" y="-32" width="96" height="64"/><text y="-15.7"><tspan x="0">gini = 0.0</tspan><tspan x="0" dy="14.15">samples = 3</tspan><tspan x="0" dy="14.15">value = [3, 0]</tspan><tspan x="0" dy="14.15">class = 0</tspan></text></g>
<g id="n155" class="n" transform="translate(2532,1981.5)"><rect x="-60.5" y="-39.5" width="121" height="79" fill="#e78c4a"/><text y="-23"><tspan x="0">Influenza B ≤ 0.5</tspan><tspan x="0" dy="14.15">gini = 0.147</tspan><tspan x="0" dy="14.15">samples = 138</tspan><tspan x="0" dy="14.15">value = [127, 11]</tspan><tspan x="0" dy="14.15">class = 0</tspan></text></g>
<g id="n156" class="n o" transform="translate(2658.7,1981.5)"><rect x="-48" y="-32" width="96" height="64"/><text y="-15.7"><tspan x="0">gini = 0.0</tspan><tspan x="0" dy="14.15">samples = 2</tspan><tspan x="0" dy="14.15">value = [2, 0]</tspan><tspan x="0" dy="14.15">class = 0</tspan></text></g>
<g id="n157" class="n o" transform="translate(2800,1981.5)"><rect x="-48" y="-32" width="96" height="64"/><text y="-15.7"><tspan x="0">gini = 0.0</tspan><tspan x="0" dy="14.15">samples = 1</tspan><tspan x="0" dy="14.15">value = [1, 0]</tspan><tspan x="0" dy="14.15">class = 0</tspan></text></g>
<g id="n158" class="n" transform="translate(2975,1981.5)"><rect x="-109" y="-39.5" width="218" height="79" fill="#e89254"/><text y="-23"><tspan x="0">Respiratory Syncytial Virus ≤ 0.5</tspan><tspan x="0" dy="14.15">gini = 0.209</tspan><tspan x="0" dy="14.15">samples = 152</tspan><tspan x="0" dy="14.15">value = [134, 18]</tspan><tspan x="0" dy="14.15">class = 0</tspan></text></g>
<g id="n159" class="n" transform="translate(207,2095.5)"><rect x="-70" y="-39.5" width="140" height="79" fill="#e5823b"/><text y="-23"><tspan x="0">Myelocytes ≤ -0.117</tspan><tspan x="0" dy="14.15">gini = 0.015</tspan><tspan x="0" dy="14.15">samples = 129</tspan><tspan x="0" dy="14.15">value = [128, 1]</tspan><tspan x="0" dy="14.15">class = 0</tspan></text></g>
<g id="n160" class="n o" transform="translate(343,2095.5)"><rect x="-48" y="-32" width="96" height="64"/><text y="-15.7"><tspan x="0">gini = 0.0</tspan><tspan x="0" dy="14.15">samples = 2</tspan><tspan x="0" dy="14.15">value = [2, 0]</tspan><tspan x="0" dy="14.15">class = 0</tspan></text></g>
<g id="n161" class="n" transform="translate(479.5,2095.5)"><rect x="-56" y="-32" width="112" height="64" fill="#e5823b"/><text y="-15.7"><tspan x="0">gini = 0.018</tspan><tspan x="0" dy="14.15">samples = 108</tspan><tspan x="0" dy="14.15">value = [107, 1]</tspan><tspan x="0" dy="14.15">class = 0</tspan></text></g>
<g id="n162" class="n o" transform="translate(601,2095.5)"><rect x="-48" y="-32" width="96" height="64"/><text y="-15.7"><tspan x="0">gini = 0.0</tspan><tspan x="0" dy="14.15">samples = 1</tspan><tspan x="0" dy="14.15">value = [1, 0]</tspan><tspan x="0" dy="14.15">class = 0</tspan></text></g>
<g id="n163" class="n o" transform="translate(879,2095.5)"><rect x="-48" y="-32" width="96" height="64"/><text y="-15.7"><tspan x="0">gini = 0.0</tspan><tspan x="0" dy="14.15">samples = 1</tspan><tspan x="0" dy="14.15">value = [1, 0]</tspan><tspan x="0" dy="14.15">class = 0</tspan></text></g>
<g id="n164" class="n" transform="translate(1005,2095.5)"><rect x="-60" y="-39.5" width="120" height="79" fill="#e78c4a"/><text y="-23"><tspan x="0">Influenza A ≤ 0.5</tspan><tspan x="0" dy="14.15">gini = 0.148</tspan><tspan x="0" dy="14.15">samples = 162</tspan><tspan x="0" dy="14.15">value = [149, 13]</tspan><tspan x="0" dy="14.15">class = 0</tspan></text></g>
<g id="n165" class="n" transform="translate(1282,2095.5)"><rect x="-198.5" y="-39.5" width="397" height="79" fill="#e99558"/><text y="-23"><tspan x="0">Mean corpuscular hemoglobin concentration (MCHC) ≤ 0.122</tspan><tspan x="0" dy="14.15">gini = 0.237</tspan><tspan x="0" dy="14.15">samples = 583</tspan><tspan x="0" dy="14.15">value = [503, 80]</tspan><tspan x="0" dy="14.15">class = 0</tspan></text></g>
<g id="n166" class="n" transform="translate(1573,2095.5)"><rect x="-74" y="-39.5" width="148" height="79" fill="#ffffff"/><text y="-23"><tspan x="0">Lymphocytes ≤ 0.058</tspan><tspan x="0" dy="14.15">gini = 0.5</tspan><tspan x="0" dy="14.15">samples = 2</tspan><tspan x="0" dy="14.15">value = [1, 1]</tspan><tspan x="0" dy="14.15">class = 0</tspan></text></g>
<g id="n167" class="n b" transform="translate(1714,2095.5)"><rect x="-48" y="-32" width="96" height="64"/><text y="-15.7"><tspan x="0">gini = 0.0</tspan><tspan x="0" dy="14.15">samples = 1</tspan><tspan x="0" dy="14.15">value = [0, 1]</tspan><tspan x="0" dy="14.15">class = 1</tspan></text></g>
<g id="n168" class="n o" transform="translate(1828.6,2095.5)"><rect x="-47.5" y="-32" width="95" height="64"/><text y="-15.7"><tspan x="0">gini = 0.0</tspan><tspan x="0" dy="14.15">samples = 1</tspan><tspan x="0" dy="14.15">value = [1, 0]</tspan><tspan x="0" dy="14.15">class = 0</tspan></text></g>
<g id="n169" class="n b" transform="translate(1944,2095.5)"><rect x="-48" y="-32" width="96" height="64"/><text y="-15.7"><tspan x="0">gini = 0.0</tspan><tspan x="0" dy="14.15">samples = 1</tspan><tspan x="0" dy="14.15">value = [0, 1]</tspan><tspan x="0" dy="14.15">class = 1</tspan></text></g>
<g id="n170" class="n" transform="translate(2098,2095.5)"><rect x="-86.5" y="-39.5" width="173" height="79" fill="#e89152"/><text y="-23"><tspan x="0">Patient age quantile ≤ 7.5</tspan><tspan x="0" dy="14.15">gini = 0.203</tspan><tspan x="0" dy="14.15">samples = 1617</tspan><tspan x="0" dy="14.15">value = [1432, 185]</tspan><tspan x="0" dy="14.15">class = 0</tspan></text></g>
<g id="n171" class="n" transform="translate(2259,2095.5)"><rect x="-55.5" y="-32" width="111" height="64" fill="#e68742"/><text y="-15.7"><tspan x="0">gini = 0.086</tspan><tspan x="0" dy="14.15">samples = 156</tspan><tspan x="0" dy="14.15">value = [149, 7]</tspan><tspan x="0" dy="14.15">class = 0</tspan></text></g>
<g id="n172" class="n o" transform="translate(2381,2095.5)"><rect x="-48" y="-32" width="96" height="64"/><text y="-15.7"><tspan x="0">gini = 0.0</tspan><tspan x="0" dy="14.15">samples = 1</tspan><tspan x="0" dy="14.15">value = [1, 0]</tspan><tspan x="0" dy="14.15">class = 0</tspan></text></g>
<g id="n173" class="n" transform="translate(2528,2095.5)"><rect x="-76" y="-39.5" width="152" height="79" fill="#e78c4a"/><text y="-23"><tspan x="0">Inf A H1N1 2009 ≤ 0.5</tspan><tspan x="0" dy="14.15">gini = 0.148</tspan><tspan x="0" dy="14.15">samples = 137</tspan><tspan x="0" dy="14.15">value = [126, 11]</tspan><tspan x="0" dy="14.15">class = 0</tspan></text></g>
<g id="n174" class="n o" transform="translate(2671,2095.5)"><rect x="-48" y="-32" width="96" height="64"/><text y="-15.7"><tspan x="0">gini = 0.0</tspan><tspan x="0" dy="14.15">samples = 1</tspan><tspan x="0" dy="14.15">value = [1, 0]</tspan><tspan x="0" dy="14.15">class = 0</tspan></text></g>
<g id="n175" class="n" transform="translate(2903,2095.5)"><rect x="-60.5" y="-39.5" width="121" height="79" fill="#e89254"/><text y="-23"><tspan x="0">Influenza B ≤ 0.5</tspan><tspan x="0" dy="14.15">gini = 0.21</tspan><tspan x="0" dy="14.15">samples = 151</tspan><tspan x="0" dy="14.15">value = [133, 18]</tspan><tspan x="0" dy="14.15">class = 0</tspan></text></g>
<g id="n176" class="n o" transform="translate(3029,2095.5)"><rect x="-48" y="-32" width="96" height="64"/><text y="-15.7"><tspan x="0">gini = 0.0</tspan><tspan x="0" dy="14.15">samples = 1</tspan><tspan x="0" dy="14.15">value = [1, 0]</tspan><tspan x="0" dy="14.15">class = 0</tspan></text></g>
<g id="n177" class="n o" transform="translate(144.5,2209.5)"><rect x="-48" y="-32" width="96" height="64"/><text y="-15.7"><tspan x="0">gini = 0.0</tspan><tspan x="0" dy="14.15">samples = 1</tspan><tspan x="0" dy="14.15">value = [1, 0]</tspan><tspan x="0" dy="14.15">class = 0</tspan></text></g>
<g id="n178" class="n" transform="translate(271,2209.5)"><rect x="-60" y="-39.5" width="120" height="79" fill="#e5823b"/><text y="-23"><tspan x="0">Adenovirus ≤ 0.5</tspan><tspan x="0" dy="14.15">gini = 0.016</tspan><tspan x="0" dy="14.15">samples = 128</tspan><tspan x="0" dy="14.15">value = [127, 1]</tspan><tspan x="0" dy="14.15">class = 0</tspan></text></g>
<g id="n179" class="n" transform="translate(926,2209.5)"><rect x="-93.5" y="-39.5" width="187" height="79" fill="#e78c4a"/><text y="-23"><tspan x="0">Influenza B, rapid test ≤ 0.5</tspan><tspan x="0" dy="14.15">gini = 0.148</tspan><tspan x="0" dy="14.15">samples = 161</tspan><tspan x="0" dy="14.15">value = [148, 13]</tspan><tspan x="0" dy="14.15">class = 0</tspan></text></g>
<g id="n180" class="n o" transform="translate(1085,2209.5)"><rect x="-48" y="-32" width="96" height="64"/><text y="-15.7"><tspan x="0">gini = 0.0</tspan><tspan x="0" dy="14.15">samples = 1</tspan><tspan x="0" dy="14.15">value = [1, 0]</tspan><tspan x="0" dy="14.15">class = 0</tspan></text></g>
<g id="n181" class="n" transform="translate(1218,2209.5)"><rect x="-60" y="-39.5" width="120" height="79" fill="#e99559"/><text y="-23"><tspan x="0">Influenza B ≤ 0.5</tspan><tspan x="0" dy="14.15">gini = 0.239</tspan><tspan x="0" dy="14.15">samples = 576</tspan><tspan x="0" dy="14.15">value = [496, 80]</tspan><tspan x="0" dy="14.15">class = 0</tspan></text></g>
<g id="n182" class="n o" transform="translate(1345,2209.5)"><rect x="-48" y="-32" width="96" height="64"/><text y="-15.7"><tspan x="0">gini = 0.0</tspan><tspan x="0" dy="14.15">samples = 7</tspan><tspan x="0" dy="14.15">value = [7, 0]</tspan><tspan x="0" dy="14.15">class = 0</tspan></text></g>
<g id="n183" class="n o" transform="translate(1463,2209.5)"><rect x="-48" y="-32" width="96" height="64"/><text y="-15.7"><tspan x="0">gini = 0.0</tspan><tspan x="0" dy="14.15">samples = 1</tspan><tspan x="0" dy="14.15">value = [1, 0]</tspan><tspan x="0" dy="14.15">class = 0</tspan></text></g>
<g id="n184" class="n b" transform="translate(1578,2209.5)"><rect x="-48" y="-32" width="96" height="64"/><text y="-15.7"><tspan x="0">gini = 0.0</tspan><tspan x="0" dy="14.15">samples = 1</tspan><tspan x="0" dy="14.15">value = [0, 1]</tspan><tspan x="0" dy="14.15">class = 1</tspan></text></g>
<g id="n185" class="n" transform="translate(1928,2209.5)"><rect x="-64" y="-39.5" width="128" height="79" fill="#e78c4b"/><text y="-23"><tspan x="0">Neutrophils ≤ 0.42</tspan><tspan x="0" dy="14.15">gini = 0.15</tspan><tspan x="0" dy="14.15">samples = 196</tspan><tspan x="0" dy="14.15">value = [180, 16]</tspan><tspan x="0" dy="14.15">class = 0</tspan></text></g>
<g id="n186" class="n" transform="translate(2102,2209.5)"><rect x="-91" y="-39.5" width="182" height="79" fill="#e89254"/><text y="-23"><tspan x="0">Patient age quantile ≤ 10.5</tspan><tspan x="0" dy="14.15">gini = 0.21</tspan><tspan x="0" dy="14.15">samples = 1421</tspan><tspan x="0" dy="14.15">value = [1252, 169]</tspan><tspan x="0" dy="14.15">class = 0</tspan></text></g>
<g id="n187" class="n" transform="translate(2454,2209.5)"><rect x="-84" y="-39.5" width="168" height="79" fill="#e78c4a"/><text y="-23"><tspan x="0">Coronavirus HKU1 ≤ 0.5</tspan><tspan x="0" dy="14.15">gini = 0.149</tspan><tspan x="0" dy="14.15">samples = 136</tspan><tspan x="0" dy="14.15">value = [125, 11]</tspan><tspan x="0" dy="14.15">class = 0</tspan></text></g>
<g id="n188" class="n o" transform="translate(2603.7,2209.5)"><rect x="-48" y="-32" width="96" height="64"/><text y="-15.7"><tspan x="0">gini = 0.0</tspan><tspan x="0" dy="14.15">samples = 1</tspan><tspan x="0" dy="14.15">value = [1, 0]</tspan><tspan x="0" dy="14.15">class = 0</tspan></text></g>
<g id="n189" class="n" transform="translate(2799,2209.5)"><rect x="-92.5" y="-39.5" width="185" height="79" fill="#e99254"/><text y="-23"><tspan x="0">Influenza A, rapid test ≤ 0.5</tspan><tspan x="0" dy="14.15">gini = 0.211</tspan><tspan x="0" dy="14.15">samples = 150</tspan><tspan x="0" dy="14.15">value = [132, 18]</tspan><tspan x="0" dy="14.15">class = 0</tspan></text></g>
<g id="n190" class="n o" transform="translate(2958,2209.5)"><rect x="-48" y="-32" width="96" height="64"/><text y="-15.7"><tspan x="0">gini = 0.0</tspan><tspan x="0" dy="14.15">samples = 1</tspan><tspan x="0" dy="14.15">value = [1, 0]</tspan><tspan x="0" dy="14.15">class = 0</tspan></text></g>
<g id="n191" class="n" transform="translate(210,2323.5)"><rect x="-56" y="-32" width="112" height="64" fill="#e5823b"/><text y="-15.7"><tspan x="0">gini = 0.016</tspan><tspan x="0" dy="14.15">samples = 127</tspan><tspan x="0" dy="14.15">value = [126, 1]</tspan><tspan x="0" dy="14.15">class = 0</tspan></text></g>
<g id="n192" class="n o" transform="translate(332,2323.5)"><rect x="-48" y="-32" width="96" height="64"/><text y="-15.7"><tspan x="0">gini = 0.0</tspan><tspan x="0" dy="14.15">samples = 1</tspan><tspan x="0" dy="14.15">value = [1, 0]</tspan><tspan x="0" dy="14.15">class = 0</tspan></text></g>
<g id="n193" class="n" transform="translate(924,2323.5)"><rect x="-60" y="-32" width="120" height="64" fill="#e78c4b"/><text y="-15.7"><tspan x="0">gini = 0.149</tspan><tspan x="0" dy="14.15">samples = 160</tspan><tspan x="0" dy="14.15">value = [147, 13]</tspan><tspan x="0" dy="14.15">class = 0</tspan></text></g>
<g id="n194" class="n o" transform="translate(1050,2323.5)"><rect x="-48" y="-32" width="96" height="64"/><text y="-15.7"><tspan x="0">gini = 0.0</tspan><tspan x="0" dy="14.15">samples = 1</tspan><tspan x="0" dy="14.15">value = [1, 0]</tspan><tspan x="0" dy="14.15">class = 0</tspan></text></g>
<g id="n195" class="n" transform="translate(1176,2323.5)"><rect x="-59.5" y="-39.5" width="119" height="79" fill="#e99559"/><text y="-23"><tspan x="0">Strepto A ≤ 0.5</tspan><tspan x="0" dy="14.15">gini = 0.238</tspan><tspan x="0" dy="14.15">samples = 573</tspan><tspan x="0" dy="14.15">value = [494, 79]</tspan><tspan x="0" dy="14.15">class = 0</tspan></text></g>
<g id="n196" class="n" transform="translate(1347,2323.5)"><rect x="-93" y="-39.5" width="186" height="79" fill="#f2c09c"/><text y="-23"><tspan x="0">Influenza B, rapid test ≤ 0.5</tspan><tspan x="0" dy="14.15">gini = 0.444</tspan><tspan x="0" dy="14.15">samples = 3</tspan><tspan x="0" dy="14.15">value = [2, 1]</tspan><tspan x="0" dy="14.15">class = 0</tspan></text></g>
<g id="n197" class="n" transform="translate(1807,2323.5)"><rect x="-61" y="-39.5" width="122" height="79" fill="#e78c4b"/><text y="-23"><tspan x="0">Influenza B ≤ 0.5</tspan><tspan x="0" dy="14.15">gini = 0.151</tspan><tspan x="0" dy="14.15">samples = 195</tspan><tspan x="0" dy="14.15">value = [179, 16]</tspan><tspan x="0" dy="14.15">class = 0</tspan></text></g>
<g id="n198" class="n o" transform="translate(1934,2323.5)"><rect x="-48" y="-32" width="96" height="64"/><text y="-15.7"><tspan x="0">gini = 0.0</tspan><tspan x="0" dy="14.15">samples = 1</tspan><tspan x="0" dy="14.15">value = [1, 0]</tspan><tspan x="0" dy="14.15">class = 0</tspan></text></g>
<g id="n199" class="n" transform="translate(2101.5,2323.5)"><rect x="-60.5" y="-39.5" width="121" height="79" fill="#e99559"/><text y="-23"><tspan x="0">Influenza B ≤ 0.5</tspan><tspan x="0" dy="14.15">gini = 0.24</tspan><tspan x="0" dy="14.15">samples = 430</tspan><tspan x="0" dy="14.15">value = [370, 60]</tspan><tspan x="0" dy="14.15">class = 0</tspan></text></g>
<g id="n200" class="n" transform="translate(2247,2323.5)"><rect x="-67" y="-39.5" width="134" height="79" fill="#e89051"/><text y="-23"><tspan x="0">Hematocrit ≤ 0.084</tspan><tspan x="0" dy="14.15">gini = 0.196</tspan><tspan x="0" dy="14.15">samples = 991</tspan><tspan x="0" dy="14.15">value = [882, 109]</tspan><tspan x="0" dy="14.15">class = 0</tspan></text></g>
<g id="n201" class="n" transform="translate(2438,2323.5)"><rect x="-59" y="-32" width="118" height="64" fill="#e78c4b"/><text y="-15.7"><tspan x="0">gini = 0.15</tspan><tspan x="0" dy="14.15">samples = 135</tspan><tspan x="0" dy="14.15">value = [124, 11]</tspan><tspan x="0" dy="14.15">class = 0</tspan></text></g>
<g id="n202" class="n o" transform="translate(2564,2323.5)"><rect x="-48" y="-32" width="96" height="64"/><text y="-15.7"><tspan x="0">gini = 0.0</tspan><tspan x="0" dy="14.15">samples = 1</tspan><tspan x="0" dy="14.15">value = [1, 0]</tspan><tspan x="0" dy="14.15">class = 0</tspan></text></g>
<g id="n203" class="n" transform="translate(2728,2323.5)"><rect x="-80" y="-39.5" width="160" height="79" fill="#e99254"/><text y="-23"><tspan x="0">CoronavirusNL63 ≤ 0.5</tspan><tspan x="0" dy="14.15">gini = 0.212</tspan><tspan x="0" dy="14.15">samples = 149</tspan><tspan x="0" dy="14.15">value = [131, 18]</tspan><tspan x="0" dy="14.15">class = 0</tspan></text></g>
<g id="n204" class="n o" transform="translate(2874,2323.5)"><rect x="-48" y="-32" width="96" height="64"/><text y="-15.7"><tspan x="0">gini = 0.0</tspan><tspan x="0" dy="14.15">samples = 1</tspan><tspan x="0" dy="14.15">value = [1, 0]</tspan><tspan x="0" dy="14.15">class = 0</tspan></text></g>
<g id="n205" class="n" transform="translate(1053,2437.5)"><rect x="-60" y="-39.5" width="120" height="79" fill="#e99559"/><text y="-23"><tspan x="0">Influenza A ≤ 0.5</tspan><tspan x="0" dy="14.15">gini = 0.239</tspan><tspan x="0" dy="14.15">samples = 570</tspan><tspan x="0" dy="14.15">value = [491, 79]</tspan><tspan x="0" dy="14.15">class = 0</tspan></text></g>
<g id="n206" class="n o" transform="translate(1179,2437.5)"><rect x="-48" y="-32" width="96" height="64"/><text y="-15.7"><tspan x="0">gini = 0.0</tspan><tspan x="0" dy="14.15">samples = 3</tspan><tspan x="0" dy="14.15">value = [3, 0]</tspan><tspan x="0" dy="14.15">class = 0</tspan></text></g>
<g id="n207" class="n" transform="translate(1344,2437.5)"><rect x="-87" y="-39.5" width="174" height="79" fill="#ffffff"/><text y="-23"><tspan x="0">Patient age quantile ≤ 4.5</tspan><tspan x="0" dy="14.15">gini = 0.5</tspan><tspan x="0" dy="14.15">samples = 2</tspan><tspan x="0" dy="14.15">value = [1, 1]</tspan><tspan x="0" dy="14.15">class = 0</tspan></text></g>
<g id="n208" class="n o" transform="translate(1498,2437.5)"><rect x="-48" y="-32" width="96" height="64"/><text y="-15.7"><tspan x="0">gini = 0.0</tspan><tspan x="0" dy="14.15">samples = 1</tspan><tspan x="0" dy="14.15">value = [1, 0]</tspan><tspan x="0" dy="14.15">class = 0</tspan></text></g>
<g id="n209" class="n" transform="translate(1658,2437.5)"><rect x="-83" y="-39.5" width="166" height="79" fill="#e78c4b"/><text y="-23"><tspan x="0">Coronavirus HKU1 ≤ 0.5</tspan><tspan x="0" dy="14.15">gini = 0.151</tspan><tspan x="0" dy="14.15">samples = 194</tspan><tspan x="0" dy="14.15">value = [178, 16]</tspan><tspan x="0" dy="14.15">class = 0</tspan></text></g>
<g id="n210" class="n o" transform="translate(1808,2437.5)"><rect x="-48" y="-32" width="96" height="64"/><text y="-15.7"><tspan x="0">gini = 0.0</tspan><tspan x="0" dy="14.15">samples = 1</tspan><tspan x="0" dy="14.15">value = [1, 0]</tspan><tspan x="0" dy="14.15">class = 0</tspan></text></g>
<g id="n211" class="n" transform="translate(1960.5,2437.5)"><rect x="-83.5" y="-39.5" width="167" height="79" fill="#e99659"/><text y="-23"><tspan x="0">Coronavirus HKU1 ≤ 0.5</tspan><tspan x="0" dy="14.15">gini = 0.242</tspan><tspan x="0" dy="14.15">samples = 427</tspan><tspan x="0" dy="14.15">value = [367, 60]</tspan><tspan x="0" dy="14.15">class = 0</tspan></text></g>
<g id="n212" class="n o" transform="translate(2111,2437.5)"><rect x="-48" y="-32" width="96" height="64"/><text y="-15.7"><tspan x="0">gini = 0.0</tspan><tspan x="0" dy="14.15">samples = 3</tspan><tspan x="0" dy="14.15">value = [3, 0]</tspan><tspan x="0" dy="14.15">class = 0</tspan></text></g>
<g id="n213" class="n" transform="translate(2242,2437.5)"><rect x="-64" y="-39.5" width="128" height="79" fill="#e89152"/><text y="-23"><tspan x="0">Strepto A ≤ 0.5</tspan><tspan x="0" dy="14.15">gini = 0.197</tspan><tspan x="0" dy="14.15">samples = 984</tspan><tspan x="0" dy="14.15">value = [875, 109]</tspan><tspan x="0" dy="14.15">class = 0</tspan></text></g>
<g id="n214" class="n o" transform="translate(2372,2437.5)"><rect x="-48" y="-32" width="96" height="64"/><text y="-15.7"><tspan x="0">gini = 0.0</tspan><tspan x="0" dy="14.15">samples = 7</tspan><tspan x="0" dy="14.15">value = [7, 0]</tspan><tspan x="0" dy="14.15">class = 0</tspan></text></g>
<g id="n215" class="n" transform="translate(2665,2437.5)"><rect x="-60" y="-32" width="120" height="64" fill="#e99254"/><text y="-15.7"><tspan x="0">gini = 0.214</tspan><tspan x="0" dy="14.15">samples = 148</tspan><tspan x="0" dy="14.15">value = [130, 18]</tspan><tspan x="0" dy="14.15">class = 0</tspan></text></g>
<g id="n216" class="n o" transform="translate(2791,2437.5)"><rect x="-48" y="-32" width="96" height="64"/><text y="-15.7"><tspan x="0">gini = 0.0</tspan><tspan x="0" dy="14.15">samples = 1</tspan><tspan x="0" dy="14.15">value = [1, 0]</tspan><tspan x="0" dy="14.15">class = 0</tspan></text></g>
<g id="n217" class="n" transform="translate(1052,2551.5)"><rect x="-77" y="-39.5" width="154" height="79" fill="#e99559"/><text y="-23"><tspan x="0">Urine - Aspect_0 ≤ 0.5</tspan><tspan x="0" dy="14.15">gini = 0.239</tspan><tspan x="0" dy="14.15">samples = 568</tspan><tspan x="0" dy="14.15">value = [489, 79]</tspan><tspan x="0" dy="14.15">class = 0</tspan></text></g>
<g id="n218" class="n o" transform="translate(1190,2551.5)"><rect x="-48" y="-32" width="96" height="64"/><text y="-15.7"><tspan x="0">gini = 0.0</tspan><tspan x="0" dy="14.15">samples = 2</tspan><tspan x="0" dy="14.15">value = [2, 0]</tspan><tspan x="0" dy="14.15">class = 0</tspan></text></g>
<g id="n219" class="n o" transform="translate(1308,2551.5)"><rect x="-48" y="-32" width="96" height="64"/><text y="-15.7"><tspan x="0">gini = 0.0</tspan><tspan x="0" dy="14.15">samples = 1</tspan><tspan x="0" dy="14.15">value = [1, 0]</tspan><tspan x="0" dy="14.15">class = 0</tspan></text></g>
<g id="n220" class="n b" transform="translate(1423,2551.5)"><rect x="-48" y="-32" width="96" height="64"/><text y="-15.7"><tspan x="0">gini = 0.0</tspan><tspan x="0" dy="14.15">samples = 1</tspan><tspan x="0" dy="14.15">value = [0, 1]</tspan><tspan x="0" dy="14.15">class = 1</tspan></text></g>
<g id="n221" class="n" transform="translate(1583,2551.5)"><rect x="-92" y="-39.5" width="184" height="79" fill="#e78c4b"/><text y="-23"><tspan x="0">Influenza A, rapid test ≤ 0.5</tspan><tspan x="0" dy="14.15">gini = 0.152</tspan><tspan x="0" dy="14.15">samples = 193</tspan><tspan x="0" dy="14.15">value = [177, 16]</tspan><tspan x="0" dy="14.15">class = 0</tspan></text></g>
<g id="n222" class="n o" transform="translate(1742,2551.5)"><rect x="-48" y="-32" width="96" height="64"/><text y="-15.7"><tspan x="0">gini = 0.0</tspan><tspan x="0" dy="14.15">samples = 1</tspan><tspan x="0" dy="14.15">value = [1, 0]</tspan><tspan x="0" dy="14.15">class = 0</tspan></text></g>
<g id="n223" class="n" transform="translate(1920,2551.5)"><rect x="-106" y="-39.5" width="212" height="79" fill="#e9965a"/><text y="-23"><tspan x="0">Urine - Crystals_Ausentes ≤ 0.5</tspan><tspan x="0" dy="14.15">gini = 0.243</tspan><tspan x="0" dy="14.15">samples = 424</tspan><tspan x="0" dy="14.15">value = [364, 60]</tspan><tspan x="0" dy="14.15">class = 0</tspan></text></g>
<g id="n224" class="n o" transform="translate(2093,2551.5)"><rect x="-48" y="-32" width="96" height="64"/><text y="-15.7"><tspan x="0">gini = 0.0</tspan><tspan x="0" dy="14.15">samples = 3</tspan><tspan x="0" dy="14.15">value = [3, 0]</tspan><tspan x="0" dy="14.15">class = 0</tspan></text></g>
<g id="n225" class="n" transform="translate(2240,2551.5)"><rect x="-80" y="-39.5" width="160" height="79" fill="#e89152"/><text y="-23"><tspan x="0">CoronavirusNL63 ≤ 0.5</tspan><tspan x="0" dy="14.15">gini = 0.198</tspan><tspan x="0" dy="14.15">samples = 977</tspan><tspan x="0" dy="14.15">value = [868, 109]</tspan><tspan x="0" dy="14.15">class = 0</tspan></text></g>
<g id="n226" class="n o" transform="translate(2386,2551.5)"><rect x="-48" y="-32" width="96" height="64"/><text y="-15.7"><tspan x="0">gini = 0.0</tspan><tspan x="0" dy="14.15">samples = 7</tspan><tspan x="0" dy="14.15">value = [7, 0]</tspan><tspan x="0" dy="14.15">class = 0</tspan></text></g>
<g id="n227" class="n o" transform="translate(1022.5,2665.5)"><rect x="-48" y="-32" width="96" height="64"/><text y="-15.7"><tspan x="0">gini = 0.0</tspan><tspan x="0" dy="14.15">samples = 1</tspan><tspan x="0" dy="14.15">value = [1, 0]</tspan><tspan x="0" dy="14.15">class = 0</tspan></text></g>
<g id="n228" class="n" transform="translate(1181,2665.5)"><rect x="-93" y="-39.5" width="186" height="79" fill="#e99559"/><text y="-23"><tspan x="0">Influenza B, rapid test ≤ 0.5</tspan><tspan x="0" dy="14.15">gini = 0.24</tspan><tspan x="0" dy="14.15">samples = 567</tspan><tspan x="0" dy="14.15">value = [488, 79]</tspan><tspan x="0" dy="14.15">class = 0</tspan></text></g>
<g id="n229" class="n" transform="translate(1499.6,2665.5)"><rect x="-59.5" y="-32" width="119" height="64" fill="#e78c4b"/><text y="-15.7"><tspan x="0">gini = 0.153</tspan><tspan x="0" dy="14.15">samples = 192</tspan><tspan x="0" dy="14.15">value = [176, 16]</tspan><tspan x="0" dy="14.15">class = 0</tspan></text></g>
<g id="n230" class="n o" transform="translate(1625,2665.5)"><rect x="-48" y="-32" width="96" height="64"/><text y="-15.7"><tspan x="0">gini = 0.0</tspan><tspan x="0" dy="14.15">samples = 1</tspan><tspan x="0" dy="14.15">value = [1, 0]</tspan><tspan x="0" dy="14.15">class = 0</tspan></text></g>
<g id="n231" class="n" transform="translate(1828.5,2665.5)"><rect x="-66.5" y="-39.5" width="133" height="79" fill="#e9965a"/><text y="-23"><tspan x="0">Monocytes ≤ 0.008</tspan><tspan x="0" dy="14.15">gini = 0.244</tspan><tspan x="0" dy="14.15">samples = 422</tspan><tspan x="0" dy="14.15">value = [362, 60]</tspan><tspan x="0" dy="14.15">class = 0</tspan></text></g>
<g id="n232" class="n o" transform="translate(1961,2665.5)"><rect x="-48" y="-32" width="96" height="64"/><text y="-15.7"><tspan x="0">gini = 0.0</tspan><tspan x="0" dy="14.15">samples = 2</tspan><tspan x="0" dy="14.15">value = [2, 0]</tspan><tspan x="0" dy="14.15">class = 0</tspan></text></g>
<g id="n233" class="n" transform="translate(2146,2665.5)"><rect x="-63.5" y="-39.5" width="127" height="79" fill="#e89152"/><text y="-23"><tspan x="0">Influenza A ≤ 0.5</tspan><tspan x="0" dy="14.15">gini = 0.199</tspan><tspan x="0" dy="14.15">samples = 971</tspan><tspan x="0" dy="14.15">value = [862, 109]</tspan><tspan x="0" dy="14.15">class = 0</tspan></text></g>
<g id="n234" class="n o" transform="translate(2276,2665.5)"><rect x="-48" y="-32" width="96" height="64"/><text y="-15.7"><tspan x="0">gini = 0.0</tspan><tspan x="0" dy="14.15">samples = 6</tspan><tspan x="0" dy="14.15">value = [6, 0]</tspan><tspan x="0" dy="14.15">class = 0</tspan></text></g>
<g id="n235" class="n" transform="translate(1110,2779.5)"><rect x="-73.5" y="-39.5" width="147" height="79" fill="#e99559"/><text y="-23"><tspan x="0">Parainfluenza 3 ≤ 0.5</tspan><tspan x="0" dy="14.15">gini = 0.24</tspan><tspan x="0" dy="14.15">samples = 566</tspan><tspan x="0" dy="14.15">value = [487, 79]</tspan><tspan x="0" dy="14.15">class = 0</tspan></text></g>
<g id="n236" class="n o" transform="translate(1250,2779.5)"><rect x="-48" y="-32" width="96" height="64"/><text y="-15.7"><tspan x="0">gini = 0.0</tspan><tspan x="0" dy="14.15">samples = 1</tspan><tspan x="0" dy="14.15">value = [1, 0]</tspan><tspan x="0" dy="14.15">class = 0</tspan></text></g>
<g id="n237" class="n" transform="translate(1678,2779.5)"><rect x="-93" y="-39.5" width="186" height="79" fill="#e9965a"/><text y="-23"><tspan x="0">Influenza B, rapid test ≤ 0.5</tspan><tspan x="0" dy="14.15">gini = 0.245</tspan><tspan x="0" dy="14.15">samples = 420</tspan><tspan x="0" dy="14.15">value = [360, 60]</tspan><tspan x="0" dy="14.15">class = 0</tspan></text></g>
<g id="n238" class="n o" transform="translate(1837,2779.5)"><rect x="-48" y="-32" width="96" height="64"/><text y="-15.7"><tspan x="0">gini = 0.0</tspan><tspan x="0" dy="14.15">samples = 2</tspan><tspan x="0" dy="14.15">value = [2, 0]</tspan><tspan x="0" dy="14.15">class = 0</tspan></text></g>
<g id="n239" class="n" transform="translate(2030,2779.5)"><rect x="-63" y="-39.5" width="126" height="79" fill="#e89152"/><text y="-23"><tspan x="0">Influenza B ≤ 0.5</tspan><tspan x="0" dy="14.15">gini = 0.2</tspan><tspan x="0" dy="14.15">samples = 966</tspan><tspan x="0" dy="14.15">value = [857, 109]</tspan><tspan x="0" dy="14.15">class = 0</tspan></text></g>
<g id="n240" class="n o" transform="translate(2160,2779.5)"><rect x="-48" y="-32" width="96" height="64"/><text y="-15.7"><tspan x="0">gini = 0.0</tspan><tspan x="0" dy="14.15">samples = 5</tspan><tspan x="0" dy="14.15">value = [5, 0]</tspan><tspan x="0" dy="14.15">class = 0</tspan></text></g>
<g id="n241" class="n" transform="translate(1097,2893.5)"><rect x="-81" y="-39.5" width="162" height="79" fill="#e99559"/><text y="-23"><tspan x="0">CoronavirusOC43 ≤ 0.5</tspan><tspan x="0" dy="14.15">gini = 0.241</tspan><tspan x="0" dy="14.15">samples = 565</tspan><tspan x="0" dy="14.15">value = [486, 79]</tspan><tspan x="0" dy="14.15">class = 0</tspan></text></g>
<g id="n242" class="n o" transform="translate(1245,2893.5)"><rect x="-48" y="-32" width="96" height="64"/><text y="-15.7"><tspan x="0">gini = 0.0</tspan><tspan x="0" dy="14.15">samples = 1</tspan><tspan x="0" dy="14.15">value = [1, 0]</tspan><tspan x="0" dy="14.15">class = 0</tspan></text></g>
<g id="n243" class="n" transform="translate(1656,2893.5)"><rect x="-109" y="-39.5" width="218" height="79" fill="#e9965a"/><text y="-23"><tspan x="0">Respiratory Syncytial Virus ≤ 0.5</tspan><tspan x="0" dy="14.15">gini = 0.246</tspan><tspan x="0" dy="14.15">samples = 418</tspan><tspan x="0" dy="14.15">value = [358, 60]</tspan><tspan x="0" dy="14.15">class = 0</tspan></text></g>
<g id="n244" class="n o" transform="translate(1831,2893.5)"><rect x="-48" y="-32" width="96" height="64"/><text y="-15.7"><tspan x="0">gini = 0.0</tspan><tspan x="0" dy="14.15">samples = 2</tspan><tspan x="0" dy="14.15">value = [2, 0]</tspan><tspan x="0" dy="14.15">class = 0</tspan></text></g>
<g id="n245" class="n" transform="translate(1989,2893.5)"><rect x="-74" y="-39.5" width="148" height="79" fill="#e89152"/><text y="-23"><tspan x="0">Parainfluenza 4 ≤ 0.5</tspan><tspan x="0" dy="14.15">gini = 0.201</tspan><tspan x="0" dy="14.15">samples = 961</tspan><tspan x="0" dy="14.15">value = [852, 109]</tspan><tspan x="0" dy="14.15">class = 0</tspan></text></g>
<g id="n246" class="n o" transform="translate(2129,2893.5)"><rect x="-48" y="-32" width="96" height="64"/><text y="-15.7"><tspan x="0">gini = 0.0</tspan><tspan x="0" dy="14.15">samples = 5</tspan><tspan x="0" dy="14.15">value = [5, 0]</tspan><tspan x="0" dy="14.15">class = 0</tspan></text></g>
<g id="n247" class="n" transform="translate(1022,3007.5)"><rect x="-81" y="-39.5" width="162" height="79" fill="#e99559"/><text y="-23"><tspan x="0">Metapneumovirus ≤ 0.5</tspan><tspan x="0" dy="14.15">gini = 0.241</tspan><tspan x="0" dy="14.15">samples = 564</tspan><tspan x="0" dy="14.15">value = [485, 79]</tspan><tspan x="0" dy="14.15">class = 0</tspan></text></g>
<g id="n248" class="n o" transform="translate(1169,3007.5)"><rect x="-48" y="-32" width="96" height="64"/><text y="-15.7"><tspan x="0">gini = 0.0</tspan><tspan x="0" dy="14.15">samples = 1</tspan><tspan x="0" dy="14.15">value = [1, 0]</tspan><tspan x="0" dy="14.15">class = 0</tspan></text></g>
<g id="n249" class="n" transform="translate(1531,3007.5)"><rect x="-87" y="-39.5" width="174" height="79" fill="#e9965a"/><text y="-23"><tspan x="0">Patient age quantile ≤ 8.5</tspan><tspan x="0" dy="14.15">gini = 0.247</tspan><tspan x="0" dy="14.15">samples = 416</tspan><tspan x="0" dy="14.15">value = [356, 60]</tspan><tspan x="0" dy="14.15">class = 0</tspan></text></g>
<g id="n250" class="n o" transform="translate(1685,3007.5)"><rect x="-48" y="-32" width="96" height="64"/><text y="-15.7"><tspan x="0">gini = 0.0</tspan><tspan x="0" dy="14.15">samples = 2</tspan><tspan x="0" dy="14.15">value = [2, 0]</tspan><tspan x="0" dy="14.15">class = 0</tspan></text></g>
<g id="n251" class="n" transform="translate(1851,3007.5)"><rect x="-84" y="-39.5" width="168" height="79" fill="#e89152"/><text y="-23"><tspan x="0">Coronavirus HKU1 ≤ 0.5</tspan><tspan x="0" dy="14.15">gini = 0.202</tspan><tspan x="0" dy="14.15">samples = 957</tspan><tspan x="0" dy="14.15">value = [848, 109]</tspan><tspan x="0" dy="14.15">class = 0</tspan></text></g>
<g id="n252" class="n o" transform="translate(2001,3007.5)"><rect x="-48" y="-32" width="96" height="64"/><text y="-15.7"><tspan x="0">gini = 0.0</tspan><tspan x="0" dy="14.15">samples = 4</tspan><tspan x="0" dy="14.15">value = [4, 0]</tspan><tspan x="0" dy="14.15">class = 0</tspan></text></g>
<g id="n253" class="n" transform="translate(995,3121.5)"><rect x="-92" y="-39.5" width="184" height="79" fill="#e99559"/><text y="-23"><tspan x="0">Influenza A, rapid test ≤ 0.5</tspan><tspan x="0" dy="14.15">gini = 0.241</tspan><tspan x="0" dy="14.15">samples = 563</tspan><tspan x="0" dy="14.15">value = [484, 79]</tspan><tspan x="0" dy="14.15">class = 0</tspan></text></g>
<g id="n254" class="n o" transform="translate(1154,3121.5)"><rect x="-48" y="-32" width="96" height="64"/><text y="-15.7"><tspan x="0">gini = 0.0</tspan><tspan x="0" dy="14.15">samples = 1</tspan><tspan x="0" dy="14.15">value = [1, 0]</tspan><tspan x="0" dy="14.15">class = 0</tspan></text></g>
<g id="n255" class="n" transform="translate(1351.5,3121.5)"><rect x="-79.5" y="-39.5" width="159" height="79" fill="#ea995f"/><text y="-23"><tspan x="0">CoronavirusNL63 ≤ 0.5</tspan><tspan x="0" dy="14.15">gini = 0.271</tspan><tspan x="0" dy="14.15">samples = 93</tspan><tspan x="0" dy="14.15">value = [78, 15]</tspan><tspan x="0" dy="14.15">class = 0</tspan></text></g>
<g id="n256" class="n" transform="translate(1536,3121.5)"><rect x="-87" y="-39.5" width="174" height="79" fill="#e99559"/><text y="-23"><tspan x="0">Patient age quantile ≤ 9.5</tspan><tspan x="0" dy="14.15">gini = 0.24</tspan><tspan x="0" dy="14.15">samples = 323</tspan><tspan x="0" dy="14.15">value = [278, 45]</tspan><tspan x="0" dy="14.15">class = 0</tspan></text></g>
<g id="n257" class="n" transform="translate(1843,3121.5)"><rect x="-112" y="-39.5" width="224" height="79" fill="#e89152"/><text y="-23"><tspan x="0">Chlamydophila pneumoniae ≤ 0.5</tspan><tspan x="0" dy="14.15">gini = 0.202</tspan><tspan x="0" dy="14.15">samples = 954</tspan><tspan x="0" dy="14.15">value = [845, 109]</tspan><tspan x="0" dy="14.15">class = 0</tspan></text></g>
<g id="n258" class="n o" transform="translate(2022,3121.5)"><rect x="-48" y="-32" width="96" height="64"/><text y="-15.7"><tspan x="0">gini = 0.0</tspan><tspan x="0" dy="14.15">samples = 3</tspan><tspan x="0" dy="14.15">value = [3, 0]</tspan><tspan x="0" dy="14.15">class = 0</tspan></text></g>
<g id="n259" class="n" transform="translate(942,3235.5)"><rect x="-87" y="-39.5" width="174" height="79" fill="#e99659"/><text y="-23"><tspan x="0">Patient age quantile ≤ 5.5</tspan><tspan x="0" dy="14.15">gini = 0.242</tspan><tspan x="0" dy="14.15">samples = 562</tspan><tspan x="0" dy="14.15">value = [483, 79]</tspan><tspan x="0" dy="14.15">class = 0</tspan></text></g>
<g id="n260" class="n o" transform="translate(1097,3235.5)"><rect x="-48" y="-32" width="96" height="64"/><text y="-15.7"><tspan x="0">gini = 0.0</tspan><tspan x="0" dy="14.15">samples = 1</tspan><tspan x="0" dy="14.15">value = [1, 0]</tspan><tspan x="0" dy="14.15">class = 0</tspan></text></g>
<g id="n261" class="n" transform="translate(1240,3235.5)"><rect x="-74" y="-39.5" width="148" height="79" fill="#ea9a60"/><text y="-23"><tspan x="0">Parainfluenza 1 ≤ 0.5</tspan><tspan x="0" dy="14.15">gini = 0.273</tspan><tspan x="0" dy="14.15">samples = 92</tspan><tspan x="0" dy="14.15">value = [77, 15]</tspan><tspan x="0" dy="14.15">class = 0</tspan></text></g>
<g id="n262" class="n o" transform="translate(1380,3235.5)"><rect x="-48" y="-32" width="96" height="64"/><text y="-15.7"><tspan x="0">gini = 0.0</tspan><tspan x="0" dy="14.15">samples = 1</tspan><tspan x="0" dy="14.15">value = [1, 0]</tspan><tspan x="0" dy="14.15">class = 0</tspan></text></g>
<g id="n263" class="n" transform="translate(1521,3235.5)"><rect x="-60" y="-32" width="120" height="64" fill="#e99558"/><text y="-15.7"><tspan x="0">gini = 0.236</tspan><tspan x="0" dy="14.15">samples = 220</tspan><tspan x="0" dy="14.15">value = [190, 30]</tspan><tspan x="0" dy="14.15">class = 0</tspan></text></g>
<g id="n264" class="n" transform="translate(1655.5,3235.5)"><rect x="-55.5" y="-32" width="111" height="64" fill="#e9965b"/><text y="-15.7"><tspan x="0">gini = 0.249</tspan><tspan x="0" dy="14.15">samples = 103</tspan><tspan x="0" dy="14.15">value = [88, 15]</tspan><tspan x="0" dy="14.15">class = 0</tspan></text></g>
<g id="n265" class="n" transform="translate(1838.6,3235.5)"><rect x="-93" y="-39.5" width="186" height="79" fill="#e89153"/><text y="-23"><tspan x="0">Influenza A, rapid test ≤ 0.5</tspan><tspan x="0" dy="14.15">gini = 0.203</tspan><tspan x="0" dy="14.15">samples = 952</tspan><tspan x="0" dy="14.15">value = [843, 109]</tspan><tspan x="0" dy="14.15">class = 0</tspan></text></g>
<g id="n266" class="n o" transform="translate(1998,3235.5)"><rect x="-48" y="-32" width="96" height="64"/><text y="-15.7"><tspan x="0">gini = 0.0</tspan><tspan x="0" dy="14.15">samples = 2</tspan><tspan x="0" dy="14.15">value = [2, 0]</tspan><tspan x="0" dy="14.15">class = 0</tspan></text></g>
<g id="n267" class="n" transform="translate(817,3349.5)"><rect x="-87" y="-39.5" width="174" height="79" fill="#e9965a"/><text y="-23"><tspan x="0">Patient age quantile ≤ 4.5</tspan><tspan x="0" dy="14.15">gini = 0.245</tspan><tspan x="0" dy="14.15">samples = 399</tspan><tspan x="0" dy="14.15">value = [342, 57]</tspan><tspan x="0" dy="14.15">class = 0</tspan></text></g>
<g id="n268" class="n" transform="translate(982,3349.5)"><rect x="-60" y="-32" width="120" height="64" fill="#e99558"/><text y="-15.7"><tspan x="0">gini = 0.234</tspan><tspan x="0" dy="14.15">samples = 163</tspan><tspan x="0" dy="14.15">value = [141, 22]</tspan><tspan x="0" dy="14.15">class = 0</tspan></text></g>
<g id="n269" class="n" transform="translate(1200,3349.5)"><rect x="-60" y="-39.5" width="120" height="79" fill="#ea9a60"/><text y="-23"><tspan x="0">Influenza A ≤ 0.5</tspan><tspan x="0" dy="14.15">gini = 0.275</tspan><tspan x="0" dy="14.15">samples = 91</tspan><tspan x="0" dy="14.15">value = [76, 15]</tspan><tspan x="0" dy="14.15">class = 0</tspan></text></g>
<g id="n270" class="n o" transform="translate(1326,3349.5)"><rect x="-48" y="-32" width="96" height="64"/><text y="-15.7"><tspan x="0">gini = 0.0</tspan><tspan x="0" dy="14.15">samples = 1</tspan><tspan x="0" dy="14.15">value = [1, 0]</tspan><tspan x="0" dy="14.15">class = 0</tspan></text></g>
<g id="n271" class="n" transform="translate(1759,3349.5)"><rect x="-93.5" y="-39.5" width="187" height="79" fill="#e89153"/><text y="-23"><tspan x="0">Influenza B, rapid test ≤ 0.5</tspan><tspan x="0" dy="14.15">gini = 0.203</tspan><tspan x="0" dy="14.15">samples = 950</tspan><tspan x="0" dy="14.15">value = [841, 109]</tspan><tspan x="0" dy="14.15">class = 0</tspan></text></g>
<g id="n272" class="n o" transform="translate(1918,3349.5)"><rect x="-48" y="-32" width="96" height="64"/><text y="-15.7"><tspan x="0">gini = 0.0</tspan><tspan x="0" dy="14.15">samples = 2</tspan><tspan x="0" dy="14.15">value = [2, 0]</tspan><tspan x="0" dy="14.15">class = 0</tspan></text></g>
<g id="n273" class="n" transform="translate(748,3463.5)"><rect x="-60" y="-32" width="120" height="64" fill="#e99559"/><text y="-15.7"><tspan x="0">gini = 0.239</tspan><tspan x="0" dy="14.15">samples = 223</tspan><tspan x="0" dy="14.15">value = [192, 31]</tspan><tspan x="0" dy="14.15">class = 0</tspan></text></g>
<g id="n274" class="n" transform="translate(886,3463.5)"><rect x="-59.5" y="-32" width="119" height="64" fill="#e9975b"/><text y="-15.7"><tspan x="0">gini = 0.252</tspan><tspan x="0" dy="14.15">samples = 176</tspan><tspan x="0" dy="14.15">value = [150, 26]</tspan><tspan x="0" dy="14.15">class = 0</tspan></text></g>
<g id="n275" class="n" transform="translate(1185,3463.5)"><rect x="-56" y="-32" width="112" height="64" fill="#ea9a61"/><text y="-15.7"><tspan x="0">gini = 0.278</tspan><tspan x="0" dy="14.15">samples = 90</tspan><tspan x="0" dy="14.15">value = [75, 15]</tspan><tspan x="0" dy="14.15">class = 0</tspan></text></g>
<g id="n276" class="n o" transform="translate(1307,3463.5)"><rect x="-48" y="-32" width="96" height="64"/><text y="-15.7"><tspan x="0">gini = 0.0</tspan><tspan x="0" dy="14.15">samples = 1</tspan><tspan x="0" dy="14.15">value = [1, 0]</tspan><tspan x="0" dy="14.15">class = 0</tspan></text></g>
<g id="n277" class="n" transform="translate(1689,3463.5)"><rect x="-74" y="-39.5" width="148" height="79" fill="#e89153"/><text y="-23"><tspan x="0">Parainfluenza 1 ≤ 0.5</tspan><tspan x="0" dy="14.15">gini = 0.204</tspan><tspan x="0" dy="14.15">samples = 948</tspan><tspan x="0" dy="14.15">value = [839, 109]</tspan><tspan x="0" dy="14.15">class = 0</tspan></text></g>
<g id="n278" class="n o" transform="translate(1829,3463.5)"><rect x="-48" y="-32" width="96" height="64"/><text y="-15.7"><tspan x="0">gini = 0.0</tspan><tspan x="0" dy="14.15">samples = 2</tspan><tspan x="0" dy="14.15">value = [2, 0]</tspan><tspan x="0" dy="14.15">class = 0</tspan></text></g>
<g id="n279" class="n" transform="translate(1608,3577.5)"><rect x="-95" y="-39.5" width="190" height="79" fill="#e89153"/><text y="-23"><tspan x="0">Urine - Leukocytes ≤ 1300.0</tspan><tspan x="0" dy="14.15">gini = 0.204</tspan><tspan x="0" dy="14.15">samples = 946</tspan><tspan x="0" dy="14.15">value = [837, 109]</tspan><tspan x="0" dy="14.15">class = 0</tspan></text></g>
<g id="n280" class="n o" transform="translate(1770,3577.5)"><rect x="-48" y="-32" width="96" height="64"/><text y="-15.7"><tspan x="0">gini = 0.0</tspan><tspan x="0" dy="14.15">samples = 2</tspan><tspan x="0" dy="14.15">value = [2, 0]</tspan><tspan x="0" dy="14.15">class = 0</tspan></text></g>
<g id="n281" class="n" transform="translate(1521,3691.5)"><rect x="-109" y="-39.5" width="218" height="79" fill="#e89153"/><text y="-23"><tspan x="0">Respiratory Syncytial Virus ≤ 0.5</tspan><tspan x="0" dy="14.15">gini = 0.204</tspan><tspan x="0" dy="14.15">samples = 945</tspan><tspan x="0" dy="14.15">value = [836, 109]</tspan><tspan x="0" dy="14.15">class = 0</tspan></text></g>
<g id="n282" class="n o" transform="translate(1696,3691.5)"><rect x="-48" y="-32" width="96" height="64"/><text y="-15.7"><tspan x="0">gini = 0.0</tspan><tspan x="0" dy="14.15">samples = 1</tspan><tspan x="0" dy="14.15">value = [1, 0]</tspan><tspan x="0" dy="14.15">class = 0</tspan></text></g>
<g id="n283" class="n" transform="translate(1447,3805.5)"><rect x="-81.5" y="-39.5" width="163" height="79" fill="#e89153"/><text y="-23"><tspan x="0">CoronavirusOC43 ≤ 0.5</tspan><tspan x="0" dy="14.15">gini = 0.204</tspan><tspan x="0" dy="14.15">samples = 944</tspan><tspan x="0" dy="14.15">value = [835, 109]</tspan><tspan x="0" dy="14.15">class = 0</tspan></text></g>
<g id="n284" class="n o" transform="translate(1595,3805.5)"><rect x="-48" y="-32" width="96" height="64"/><text y="-15.7"><tspan x="0">gini = 0.0</tspan><tspan x="0" dy="14.15">samples = 1</tspan><tspan x="0" dy="14.15">value = [1, 0]</tspan><tspan x="0" dy="14.15">class = 0</tspan></text></g>
<g id="n285" class="n" transform="translate(1382.5,3919.5)"><rect x="-63.5" y="-39.5" width="127" height="79" fill="#e89153"/><text y="-23"><tspan x="0">Albumin ≤ -0.269</tspan><tspan x="0" dy="14.15">gini = 0.204</tspan><tspan x="0" dy="14.15">samples = 943</tspan><tspan x="0" dy="14.15">value = [834, 109]</tspan><tspan x="0" dy="14.15">class = 0</tspan></text></g>
<g id="n286" class="n o" transform="translate(1512,3919.5)"><rect x="-48" y="-32" width="96" height="64"/><text y="-15.7"><tspan x="0">gini = 0.0</tspan><tspan x="0" dy="14.15">samples = 1</tspan><tspan x="0" dy="14.15">value = [1, 0]</tspan><tspan x="0" dy="14.15">class = 0</tspan></text></g>
<g id="n287" class="n o" transform="translate(1309,4033.5)"><rect x="-48" y="-32" width="96" height="64"/><text y="-15.7"><tspan x="0">gini = 0.0</tspan><tspan x="0" dy="14.15">samples = 1</tspan><tspan x="0" dy="14.15">value = [1, 0]</tspan><tspan x="0" dy="14.15">class = 0</tspan></text></g>
<g id="n288" class="n" transform="translate(1455,4033.5)"><rect x="-79.5" y="-39.5" width="159" height="79" fill="#e89153"/><text y="-23"><tspan x="0">Coronavirus229E ≤ 0.5</tspan><tspan x="0" dy="14.15">gini = 0.205</tspan><tspan x="0" dy="14.15">samples = 942</tspan><tspan x="0" dy="14.15">value = [833, 109]</tspan><tspan x="0" dy="14.15">class = 0</tspan></text></g>
<g id="n289" class="n" transform="translate(1382,4147.5)"><rect x="-81" y="-39.5" width="162" height="79" fill="#e89153"/><text y="-23"><tspan x="0">Metapneumovirus ≤ 0.5</tspan><tspan x="0" dy="14.15">gini = 0.205</tspan><tspan x="0" dy="14.15">samples = 941</tspan><tspan x="0" dy="14.15">value = [832, 109]</tspan><tspan x="0" dy="14.15">class = 0</tspan></text></g>
<g id="n290" class="n o" transform="translate(1529,4147.5)"><rect x="-48" y="-32" width="96" height="64"/><text y="-15.7"><tspan x="0">gini = 0.0</tspan><tspan x="0" dy="14.15">samples = 1</tspan><tspan x="0" dy="14.15">value = [1, 0]</tspan><tspan x="0" dy="14.15">class = 0</tspan></text></g>
<g id="n291" class="n" transform="translate(1312,4261.5)"><rect x="-74" y="-39.5" width="148" height="79" fill="#e89153"/><text y="-23"><tspan x="0">Parainfluenza 3 ≤ 0.5</tspan><tspan x="0" dy="14.15">gini = 0.205</tspan><tspan x="0" dy="14.15">samples = 940</tspan><tspan x="0" dy="14.15">value = [831, 109]</tspan><tspan x="0" dy="14.15">class = 0</tspan></text></g>
<g id="n292" class="n o" transform="translate(1452,4261.5)"><rect x="-48" y="-32" width="96" height="64"/><text y="-15.7"><tspan x="0">gini = 0.0</tspan><tspan x="0" dy="14.15">samples = 1</tspan><tspan x="0" dy="14.15">value = [1, 0]</tspan><tspan x="0" dy="14.15">class = 0</tspan></text></g>
<g id="n293" class="n" transform="translate(1233,4375.5)"><rect x="-91.5" y="-39.5" width="183" height="79" fill="#e89153"/><text y="-23"><tspan x="0">Patient age quantile ≤ 13.5</tspan><tspan x="0" dy="14.15">gini = 0.205</tspan><tspan x="0" dy="14.15">samples = 939</tspan><tspan x="0" dy="14.15">value = [830, 109]</tspan><tspan x="0" dy="14.15">class = 0</tspan></text></g>
<g id="n294" class="n o" transform="translate(1391,4375.5)"><rect x="-48" y="-32" width="96" height="64"/><text y="-15.7"><tspan x="0">gini = 0.0</tspan><tspan x="0" dy="14.15">samples = 1</tspan><tspan x="0" dy="14.15">value = [1, 0]</tspan><tspan x="0" dy="14.15">class = 0</tspan></text></g>
<g id="n295" class="n" transform="translate(1133,4489.5)"><rect x="-91.5" y="-39.5" width="183" height="79" fill="#e89152"/><text y="-23"><tspan x="0">Patient age quantile ≤ 12.5</tspan><tspan x="0" dy="14.15">gini = 0.2</tspan><tspan x="0" dy="14.15">samples = 478</tspan><tspan x="0" dy="14.15">value = [424, 54]</tspan><tspan x="0" dy="14.15">class = 0</tspan></text></g>
<g id="n296" class="n" transform="translate(1333,4489.5)"><rect x="-91.5" y="-39.5" width="183" height="79" fill="#e89254"/><text y="-23"><tspan x="0">Patient age quantile ≤ 14.5</tspan><tspan x="0" dy="14.15">gini = 0.21</tspan><tspan x="0" dy="14.15">samples = 461</tspan><tspan x="0" dy="14.15">value = [406, 55]</tspan><tspan x="0" dy="14.15">class = 0</tspan></text></g>
<g id="n297" class="n" transform="translate(980.5,4603.5)"><rect x="-91" y="-39.5" width="182" height="79" fill="#e89153"/><text y="-23"><tspan x="0">Patient age quantile ≤ 11.5</tspan><tspan x="0" dy="14.15">gini = 0.203</tspan><tspan x="0" dy="14.15">samples = 322</tspan><tspan x="0" dy="14.15">value = [285, 37]</tspan><tspan x="0" dy="14.15">class = 0</tspan></text></g>
<g id="n298" class="n" transform="translate(1149.6,4603.5)"><rect x="-59.5" y="-32" width="119" height="64" fill="#e89051"/><text y="-15.7"><tspan x="0">gini = 0.194</tspan><tspan x="0" dy="14.15">samples = 156</tspan><tspan x="0" dy="14.15">value = [139, 17]</tspan><tspan x="0" dy="14.15">class = 0</tspan></text></g>
<g id="n299" class="n" transform="translate(1318.6,4603.5)"><rect x="-59.5" y="-32" width="119" height="64" fill="#e99356"/><text y="-15.7"><tspan x="0">gini = 0.22</tspan><tspan x="0" dy="14.15">samples = 151</tspan><tspan x="0" dy="14.15">value = [132, 19]</tspan><tspan x="0" dy="14.15">class = 0</tspan></text></g>
<g id="n300" class="n" transform="translate(1487,4603.5)"><rect x="-91.5" y="-39.5" width="183" height="79" fill="#e89153"/><text y="-23"><tspan x="0">Patient age quantile ≤ 15.5</tspan><tspan x="0" dy="14.15">gini = 0.205</tspan><tspan x="0" dy="14.15">samples = 310</tspan><tspan x="0" dy="14.15">value = [274, 36]</tspan><tspan x="0" dy="14.15">class = 0</tspan></text></g>
<g id="n301" class="n" transform="translate(913,4717.5)"><rect x="-59.5" y="-32" width="119" height="64" fill="#e89152"/><text y="-15.7"><tspan x="0">gini = 0.202</tspan><tspan x="0" dy="14.15">samples = 211</tspan><tspan x="0" dy="14.15">value = [187, 24]</tspan><tspan x="0" dy="14.15">class = 0</tspan></text></g>
<g id="n302" class="n" transform="translate(1047,4717.5)"><rect x="-56" y="-32" width="112" height="64" fill="#e89253"/><text y="-15.7"><tspan x="0">gini = 0.207</tspan><tspan x="0" dy="14.15">samples = 111</tspan><tspan x="0" dy="14.15">value = [98, 13]</tspan><tspan x="0" dy="14.15">class = 0</tspan></text></g>
<g id="n303" class="n" transform="translate(1418,4717.5)"><rect x="-60" y="-32" width="120" height="64" fill="#e89254"/><text y="-15.7"><tspan x="0">gini = 0.209</tspan><tspan x="0" dy="14.15">samples = 160</tspan><tspan x="0" dy="14.15">value = [141, 19]</tspan><tspan x="0" dy="14.15">class = 0</tspan></text></g>
<g id="n304" class="n" transform="translate(1556,4717.5)"><rect x="-60" y="-32" width="120" height="64" fill="#e89152"/><text y="-15.7"><tspan x="0">gini = 0.201</tspan><tspan x="0" dy="14.15">samples = 150</tspan><tspan x="0" dy="14.15">value = [133, 17]</tspan><tspan x="0" dy="14.15">class = 0</tspan></text></g>
</g>
</svg>
